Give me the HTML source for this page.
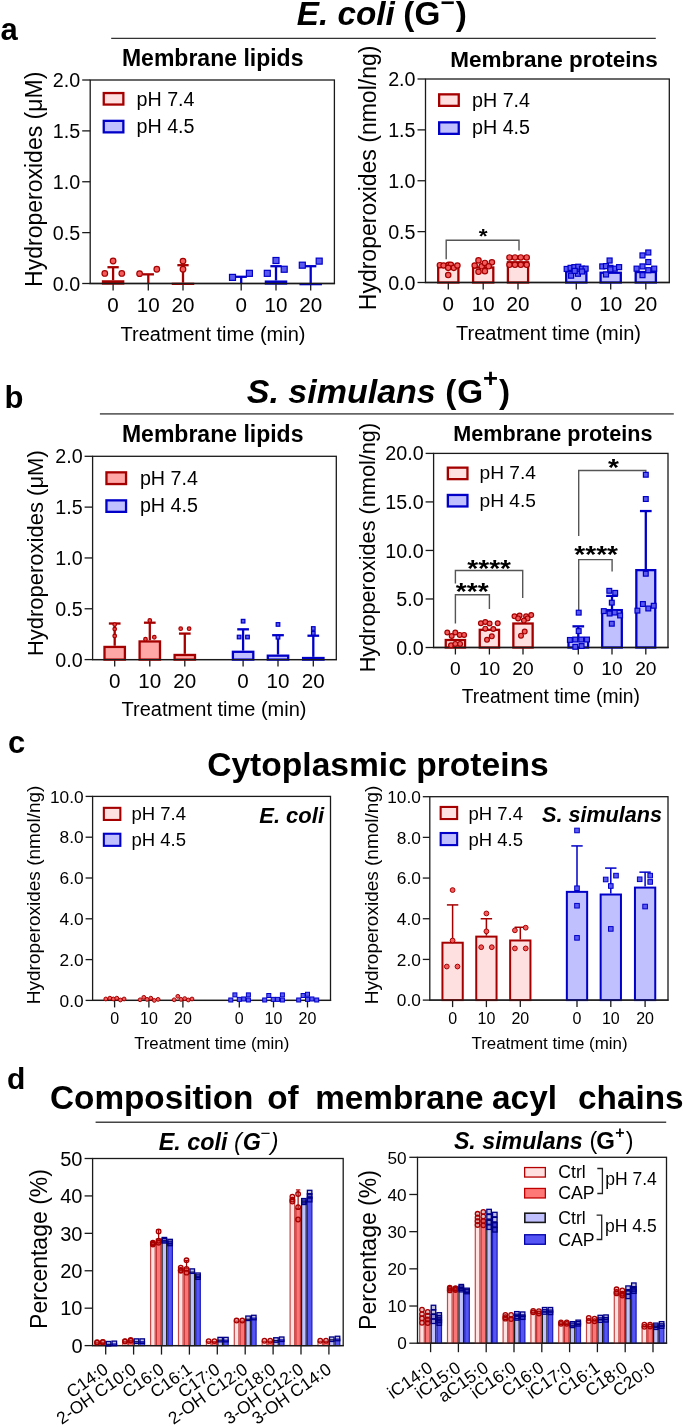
<!DOCTYPE html>
<html><head><meta charset="utf-8"><style>
html,body{margin:0;padding:0;background:#fff;}
svg{display:block;will-change:transform;font-family:"Liberation Sans", sans-serif;}
</style></head><body>
<svg width="685" height="1426" viewBox="0 0 685 1426">
<rect width="685" height="1426" fill="#fff"/>
<text x="0.5" y="39.9" font-size="31" text-anchor="start" font-weight="bold" font-style="normal" fill="#000">a</text>
<text x="296.7" y="24.8" font-size="33.3" text-anchor="start" font-weight="bold" font-style="italic" fill="#000">E. coli</text>
<text x="403.2" y="24.8" font-size="33.3" text-anchor="start" font-weight="bold" font-style="normal" fill="#000">(</text>
<text x="414.6" y="24.8" font-size="33.3" text-anchor="start" font-weight="bold" font-style="normal" fill="#000">G</text>
<text x="440.4" y="10.5" font-size="24.5" text-anchor="start" font-weight="bold" font-style="normal" fill="#000">−</text>
<text x="455.7" y="24.8" font-size="33.3" text-anchor="start" font-weight="bold" font-style="normal" fill="#000">)</text>
<line x1="111.2" y1="38.4" x2="655.8" y2="38.4" stroke="#333" stroke-width="1.3"/>
<rect x="90.2" y="80" width="244.2" height="203.5" fill="none" stroke="#1a1a1a" stroke-width="1.3"/>
<line x1="82.2" y1="283.5" x2="90.2" y2="283.5" stroke="#1a1a1a" stroke-width="1.3"/>
<text x="80.2" y="290.55" font-size="19.7" text-anchor="end" font-weight="normal" font-style="normal" fill="#000">0.0</text>
<line x1="82.2" y1="232.62" x2="90.2" y2="232.62" stroke="#1a1a1a" stroke-width="1.3"/>
<text x="80.2" y="239.68" font-size="19.7" text-anchor="end" font-weight="normal" font-style="normal" fill="#000">0.5</text>
<line x1="82.2" y1="181.75" x2="90.2" y2="181.75" stroke="#1a1a1a" stroke-width="1.3"/>
<text x="80.2" y="188.8" font-size="19.7" text-anchor="end" font-weight="normal" font-style="normal" fill="#000">1.0</text>
<line x1="82.2" y1="130.88" x2="90.2" y2="130.88" stroke="#1a1a1a" stroke-width="1.3"/>
<text x="80.2" y="137.93" font-size="19.7" text-anchor="end" font-weight="normal" font-style="normal" fill="#000">1.5</text>
<line x1="82.2" y1="80" x2="90.2" y2="80" stroke="#1a1a1a" stroke-width="1.3"/>
<text x="80.2" y="87.05" font-size="19.7" text-anchor="end" font-weight="normal" font-style="normal" fill="#000">2.0</text>
<text x="212.7" y="66.1" font-size="23" text-anchor="middle" font-weight="bold" font-style="normal" fill="#000">Membrane lipids</text>
<text x="41.9" y="179.3" font-size="23" text-anchor="middle" font-weight="normal" font-style="normal" fill="#000" transform="rotate(-90 41.9 179.3)">Hydroperoxides (μM)</text>
<rect x="103.75" y="93.05" width="19.6" height="11.5" fill="#ffe0e0" stroke="#a50000" stroke-width="2.3"/>
<rect x="103.75" y="120.85" width="19.6" height="11.5" fill="#c0c0ff" stroke="#0000c8" stroke-width="2.3"/>
<text x="136.5" y="105.8" font-size="19.7" text-anchor="start" font-weight="normal" font-style="normal" fill="#000">pH 7.4</text>
<text x="136.5" y="133" font-size="19.7" text-anchor="start" font-weight="normal" font-style="normal" fill="#000">pH 4.5</text>
<line x1="113.1" y1="283.5" x2="113.1" y2="290.5" stroke="#1a1a1a" stroke-width="1.3"/>
<text x="113.1" y="312" font-size="20.6" text-anchor="middle" font-weight="normal" font-style="normal" fill="#000">0</text>
<line x1="148.3" y1="283.5" x2="148.3" y2="290.5" stroke="#1a1a1a" stroke-width="1.3"/>
<text x="148.3" y="312" font-size="20.6" text-anchor="middle" font-weight="normal" font-style="normal" fill="#000">10</text>
<line x1="183" y1="283.5" x2="183" y2="290.5" stroke="#1a1a1a" stroke-width="1.3"/>
<text x="183" y="312" font-size="20.6" text-anchor="middle" font-weight="normal" font-style="normal" fill="#000">20</text>
<line x1="241.2" y1="283.5" x2="241.2" y2="290.5" stroke="#1a1a1a" stroke-width="1.3"/>
<text x="241.2" y="312" font-size="20.6" text-anchor="middle" font-weight="normal" font-style="normal" fill="#000">0</text>
<line x1="276" y1="283.5" x2="276" y2="290.5" stroke="#1a1a1a" stroke-width="1.3"/>
<text x="276" y="312" font-size="20.6" text-anchor="middle" font-weight="normal" font-style="normal" fill="#000">10</text>
<line x1="310.7" y1="283.5" x2="310.7" y2="290.5" stroke="#1a1a1a" stroke-width="1.3"/>
<text x="310.7" y="312" font-size="20.6" text-anchor="middle" font-weight="normal" font-style="normal" fill="#000">20</text>
<text x="213" y="341.1" font-size="20" text-anchor="middle" font-weight="normal" font-style="normal" fill="#000">Treatment time (min)</text>
<line x1="113.1" y1="280.24" x2="113.1" y2="267.22" stroke="#a50000" stroke-width="2.3"/>
<line x1="107.45" y1="267.22" x2="118.75" y2="267.22" stroke="#a50000" stroke-width="2.3"/>
<rect x="103" y="281.39" width="20.2" height="2.11" fill="#ffe0e0" stroke="#a50000" stroke-width="2.3"/>
<line x1="148.3" y1="283.5" x2="148.3" y2="274.34" stroke="#a50000" stroke-width="2.3"/>
<line x1="142.65" y1="274.34" x2="153.95" y2="274.34" stroke="#a50000" stroke-width="2.3"/>
<line x1="183" y1="282.69" x2="183" y2="265.19" stroke="#a50000" stroke-width="2.3"/>
<line x1="177.35" y1="265.19" x2="188.65" y2="265.19" stroke="#a50000" stroke-width="2.3"/>
<rect x="172.9" y="283.84" width="20.2" height="0.01" fill="#ffe0e0" stroke="#a50000" stroke-width="2.3"/>
<line x1="241.2" y1="283.5" x2="241.2" y2="276.78" stroke="#0000c8" stroke-width="2.3"/>
<line x1="235.55" y1="276.78" x2="246.85" y2="276.78" stroke="#0000c8" stroke-width="2.3"/>
<line x1="276" y1="280.45" x2="276" y2="266.2" stroke="#0000c8" stroke-width="2.3"/>
<line x1="270.35" y1="266.2" x2="281.65" y2="266.2" stroke="#0000c8" stroke-width="2.3"/>
<rect x="265.9" y="281.6" width="20.2" height="1.9" fill="#c0c0ff" stroke="#0000c8" stroke-width="2.3"/>
<line x1="310.7" y1="282.99" x2="310.7" y2="266.2" stroke="#0000c8" stroke-width="2.3"/>
<line x1="305.05" y1="266.2" x2="316.35" y2="266.2" stroke="#0000c8" stroke-width="2.3"/>
<rect x="300.6" y="284.14" width="20.2" height="0.01" fill="#c0c0ff" stroke="#0000c8" stroke-width="2.3"/>
<rect x="425.5" y="79" width="243.8" height="203.5" fill="none" stroke="#1a1a1a" stroke-width="1.3"/>
<line x1="417.5" y1="282.5" x2="425.5" y2="282.5" stroke="#1a1a1a" stroke-width="1.3"/>
<text x="415.5" y="289.55" font-size="19.7" text-anchor="end" font-weight="normal" font-style="normal" fill="#000">0.0</text>
<line x1="417.5" y1="231.62" x2="425.5" y2="231.62" stroke="#1a1a1a" stroke-width="1.3"/>
<text x="415.5" y="238.68" font-size="19.7" text-anchor="end" font-weight="normal" font-style="normal" fill="#000">0.5</text>
<line x1="417.5" y1="180.75" x2="425.5" y2="180.75" stroke="#1a1a1a" stroke-width="1.3"/>
<text x="415.5" y="187.8" font-size="19.7" text-anchor="end" font-weight="normal" font-style="normal" fill="#000">1.0</text>
<line x1="417.5" y1="129.88" x2="425.5" y2="129.88" stroke="#1a1a1a" stroke-width="1.3"/>
<text x="415.5" y="136.93" font-size="19.7" text-anchor="end" font-weight="normal" font-style="normal" fill="#000">1.5</text>
<line x1="417.5" y1="79" x2="425.5" y2="79" stroke="#1a1a1a" stroke-width="1.3"/>
<text x="415.5" y="86.05" font-size="19.7" text-anchor="end" font-weight="normal" font-style="normal" fill="#000">2.0</text>
<text x="554" y="66.6" font-size="22.5" text-anchor="middle" font-weight="bold" font-style="normal" fill="#000">Membrane proteins</text>
<text x="376" y="177.9" font-size="23" text-anchor="middle" font-weight="normal" font-style="normal" fill="#000" transform="rotate(-90 376 177.9)">Hydroperoxides (nmol/ng)</text>
<rect x="439.15" y="94.35" width="19.6" height="11.5" fill="#ffe0e0" stroke="#a50000" stroke-width="2.3"/>
<rect x="439.15" y="122.35" width="19.6" height="11.5" fill="#c0c0ff" stroke="#0000c8" stroke-width="2.3"/>
<text x="472" y="107" font-size="19.7" text-anchor="start" font-weight="normal" font-style="normal" fill="#000">pH 7.4</text>
<text x="472" y="134.3" font-size="19.7" text-anchor="start" font-weight="normal" font-style="normal" fill="#000">pH 4.5</text>
<line x1="448.3" y1="282.5" x2="448.3" y2="289.5" stroke="#1a1a1a" stroke-width="1.3"/>
<text x="448.3" y="311" font-size="20.6" text-anchor="middle" font-weight="normal" font-style="normal" fill="#000">0</text>
<line x1="483.2" y1="282.5" x2="483.2" y2="289.5" stroke="#1a1a1a" stroke-width="1.3"/>
<text x="483.2" y="311" font-size="20.6" text-anchor="middle" font-weight="normal" font-style="normal" fill="#000">10</text>
<line x1="518" y1="282.5" x2="518" y2="289.5" stroke="#1a1a1a" stroke-width="1.3"/>
<text x="518" y="311" font-size="20.6" text-anchor="middle" font-weight="normal" font-style="normal" fill="#000">20</text>
<line x1="576.3" y1="282.5" x2="576.3" y2="289.5" stroke="#1a1a1a" stroke-width="1.3"/>
<text x="576.3" y="311" font-size="20.6" text-anchor="middle" font-weight="normal" font-style="normal" fill="#000">0</text>
<line x1="610.7" y1="282.5" x2="610.7" y2="289.5" stroke="#1a1a1a" stroke-width="1.3"/>
<text x="610.7" y="311" font-size="20.6" text-anchor="middle" font-weight="normal" font-style="normal" fill="#000">10</text>
<line x1="645.8" y1="282.5" x2="645.8" y2="289.5" stroke="#1a1a1a" stroke-width="1.3"/>
<text x="645.8" y="311" font-size="20.6" text-anchor="middle" font-weight="normal" font-style="normal" fill="#000">20</text>
<text x="548.5" y="340" font-size="20" text-anchor="middle" font-weight="normal" font-style="normal" fill="#000">Treatment time (min)</text>
<path d="M446.2 259.3 V240.2 H519 V250.5" stroke="#555" stroke-width="1.4" fill="none"/>
<text transform="translate(483.2 242.7) scale(1.08 0.95)" x="0" y="0" font-size="21" font-weight="bold" text-anchor="middle">*</text>
<rect x="438.2" y="266.86" width="20.2" height="15.64" fill="#ffe0e0" stroke="#a50000" stroke-width="2.3"/>
<rect x="473.1" y="267.47" width="20.2" height="15.03" fill="#ffe0e0" stroke="#a50000" stroke-width="2.3"/>
<rect x="507.9" y="262.28" width="20.2" height="20.22" fill="#ffe0e0" stroke="#a50000" stroke-width="2.3"/>
<rect x="566.2" y="271.44" width="20.2" height="11.06" fill="#c0c0ff" stroke="#0000c8" stroke-width="2.3"/>
<rect x="600.6" y="272.76" width="20.2" height="9.74" fill="#c0c0ff" stroke="#0000c8" stroke-width="2.3"/>
<rect x="635.7" y="272.05" width="20.2" height="10.45" fill="#c0c0ff" stroke="#0000c8" stroke-width="2.3"/>
<text x="4.5" y="408" font-size="31" text-anchor="start" font-weight="bold" font-style="normal" fill="#000">b</text>
<text x="246.8" y="402.7" font-size="34" text-anchor="start" font-weight="bold" font-style="italic" fill="#000">S. simulans</text>
<text x="445.3" y="402.7" font-size="33.3" text-anchor="start" font-weight="bold" font-style="normal" fill="#000">(</text>
<text x="457.3" y="402.7" font-size="33.3" text-anchor="start" font-weight="bold" font-style="normal" fill="#000">G</text>
<text x="483" y="386.8" font-size="25.7" text-anchor="start" font-weight="bold" font-style="normal" fill="#000">+</text>
<text x="499" y="402.7" font-size="33.3" text-anchor="start" font-weight="bold" font-style="normal" fill="#000">)</text>
<line x1="99.9" y1="413.9" x2="673.8" y2="413.9" stroke="#666" stroke-width="1.6"/>
<rect x="92.6" y="456.3" width="243.7" height="203.3" fill="none" stroke="#1a1a1a" stroke-width="1.3"/>
<line x1="84.6" y1="659.6" x2="92.6" y2="659.6" stroke="#1a1a1a" stroke-width="1.3"/>
<text x="82.6" y="666.65" font-size="19.7" text-anchor="end" font-weight="normal" font-style="normal" fill="#000">0.0</text>
<line x1="84.6" y1="608.77" x2="92.6" y2="608.77" stroke="#1a1a1a" stroke-width="1.3"/>
<text x="82.6" y="615.82" font-size="19.7" text-anchor="end" font-weight="normal" font-style="normal" fill="#000">0.5</text>
<line x1="84.6" y1="557.95" x2="92.6" y2="557.95" stroke="#1a1a1a" stroke-width="1.3"/>
<text x="82.6" y="565" font-size="19.7" text-anchor="end" font-weight="normal" font-style="normal" fill="#000">1.0</text>
<line x1="84.6" y1="507.12" x2="92.6" y2="507.12" stroke="#1a1a1a" stroke-width="1.3"/>
<text x="82.6" y="514.17" font-size="19.7" text-anchor="end" font-weight="normal" font-style="normal" fill="#000">1.5</text>
<line x1="84.6" y1="456.3" x2="92.6" y2="456.3" stroke="#1a1a1a" stroke-width="1.3"/>
<text x="82.6" y="463.35" font-size="19.7" text-anchor="end" font-weight="normal" font-style="normal" fill="#000">2.0</text>
<text x="212.7" y="442" font-size="23" text-anchor="middle" font-weight="bold" font-style="normal" fill="#000">Membrane lipids</text>
<text x="43.3" y="553.2" font-size="22" text-anchor="middle" font-weight="normal" font-style="normal" fill="#000" transform="rotate(-90 43.3 553.2)">Hydroperoxides (μM)</text>
<rect x="106.45" y="472.35" width="19.6" height="11.7" fill="#ffa6a6" stroke="#a50000" stroke-width="2.3"/>
<rect x="106.45" y="500.35" width="19.6" height="11.5" fill="#c0c0ff" stroke="#0000c8" stroke-width="2.3"/>
<text x="139.9" y="485" font-size="19.7" text-anchor="start" font-weight="normal" font-style="normal" fill="#000">pH 7.4</text>
<text x="139.9" y="511.7" font-size="19.7" text-anchor="start" font-weight="normal" font-style="normal" fill="#000">pH 4.5</text>
<line x1="114.7" y1="659.6" x2="114.7" y2="666.6" stroke="#1a1a1a" stroke-width="1.3"/>
<text x="114.7" y="688" font-size="20.6" text-anchor="middle" font-weight="normal" font-style="normal" fill="#000">0</text>
<line x1="149.8" y1="659.6" x2="149.8" y2="666.6" stroke="#1a1a1a" stroke-width="1.3"/>
<text x="149.8" y="688" font-size="20.6" text-anchor="middle" font-weight="normal" font-style="normal" fill="#000">10</text>
<line x1="184.8" y1="659.6" x2="184.8" y2="666.6" stroke="#1a1a1a" stroke-width="1.3"/>
<text x="184.8" y="688" font-size="20.6" text-anchor="middle" font-weight="normal" font-style="normal" fill="#000">20</text>
<line x1="243.1" y1="659.6" x2="243.1" y2="666.6" stroke="#1a1a1a" stroke-width="1.3"/>
<text x="243.1" y="688" font-size="20.6" text-anchor="middle" font-weight="normal" font-style="normal" fill="#000">0</text>
<line x1="278" y1="659.6" x2="278" y2="666.6" stroke="#1a1a1a" stroke-width="1.3"/>
<text x="278" y="688" font-size="20.6" text-anchor="middle" font-weight="normal" font-style="normal" fill="#000">10</text>
<line x1="313.3" y1="659.6" x2="313.3" y2="666.6" stroke="#1a1a1a" stroke-width="1.3"/>
<text x="313.3" y="688" font-size="20.6" text-anchor="middle" font-weight="normal" font-style="normal" fill="#000">20</text>
<text x="214" y="715.5" font-size="20" text-anchor="middle" font-weight="normal" font-style="normal" fill="#000">Treatment time (min)</text>
<line x1="114.7" y1="645.78" x2="114.7" y2="623.51" stroke="#a50000" stroke-width="2.3"/>
<line x1="108.85" y1="623.51" x2="120.55" y2="623.51" stroke="#a50000" stroke-width="2.3"/>
<rect x="104.5" y="646.93" width="20.4" height="12.67" fill="#ffa6a6" stroke="#a50000" stroke-width="2.3"/>
<line x1="149.8" y1="640.29" x2="149.8" y2="622.7" stroke="#a50000" stroke-width="2.3"/>
<line x1="143.95" y1="622.7" x2="155.65" y2="622.7" stroke="#a50000" stroke-width="2.3"/>
<rect x="139.6" y="641.44" width="20.4" height="18.16" fill="#ffa6a6" stroke="#a50000" stroke-width="2.3"/>
<line x1="184.8" y1="653.81" x2="184.8" y2="633.58" stroke="#a50000" stroke-width="2.3"/>
<line x1="178.95" y1="633.58" x2="190.65" y2="633.58" stroke="#a50000" stroke-width="2.3"/>
<rect x="174.6" y="654.96" width="20.4" height="4.64" fill="#ffa6a6" stroke="#a50000" stroke-width="2.3"/>
<line x1="243.1" y1="650.65" x2="243.1" y2="629.31" stroke="#0000c8" stroke-width="2.3"/>
<line x1="237.25" y1="629.31" x2="248.95" y2="629.31" stroke="#0000c8" stroke-width="2.3"/>
<rect x="232.9" y="651.8" width="20.4" height="7.8" fill="#c0c0ff" stroke="#0000c8" stroke-width="2.3"/>
<line x1="278" y1="654.52" x2="278" y2="635.2" stroke="#0000c8" stroke-width="2.3"/>
<line x1="272.15" y1="635.2" x2="283.85" y2="635.2" stroke="#0000c8" stroke-width="2.3"/>
<rect x="267.8" y="655.67" width="20.4" height="3.93" fill="#c0c0ff" stroke="#0000c8" stroke-width="2.3"/>
<line x1="313.3" y1="656.86" x2="313.3" y2="635.71" stroke="#0000c8" stroke-width="2.3"/>
<line x1="307.45" y1="635.71" x2="319.15" y2="635.71" stroke="#0000c8" stroke-width="2.3"/>
<rect x="303.1" y="658.01" width="20.4" height="1.59" fill="#c0c0ff" stroke="#0000c8" stroke-width="2.3"/>
<rect x="433.6" y="453.4" width="234.4" height="194.1" fill="none" stroke="#1a1a1a" stroke-width="1.3"/>
<line x1="425.6" y1="647.5" x2="433.6" y2="647.5" stroke="#1a1a1a" stroke-width="1.3"/>
<text x="423.6" y="654.55" font-size="19.7" text-anchor="end" font-weight="normal" font-style="normal" fill="#000">0.0</text>
<line x1="425.6" y1="598.98" x2="433.6" y2="598.98" stroke="#1a1a1a" stroke-width="1.3"/>
<text x="423.6" y="606.02" font-size="19.7" text-anchor="end" font-weight="normal" font-style="normal" fill="#000">5.0</text>
<line x1="425.6" y1="550.45" x2="433.6" y2="550.45" stroke="#1a1a1a" stroke-width="1.3"/>
<text x="423.6" y="557.5" font-size="19.7" text-anchor="end" font-weight="normal" font-style="normal" fill="#000">10.0</text>
<line x1="425.6" y1="501.92" x2="433.6" y2="501.92" stroke="#1a1a1a" stroke-width="1.3"/>
<text x="423.6" y="508.97" font-size="19.7" text-anchor="end" font-weight="normal" font-style="normal" fill="#000">15.0</text>
<line x1="425.6" y1="453.4" x2="433.6" y2="453.4" stroke="#1a1a1a" stroke-width="1.3"/>
<text x="423.6" y="460.45" font-size="19.7" text-anchor="end" font-weight="normal" font-style="normal" fill="#000">20.0</text>
<text x="552.9" y="441" font-size="21.6" text-anchor="middle" font-weight="bold" font-style="normal" fill="#000">Membrane proteins</text>
<text x="375.5" y="547.6" font-size="21.7" text-anchor="middle" font-weight="normal" font-style="normal" fill="#000" transform="rotate(-90 375.5 547.6)">Hydroperoxides (nmol/ng)</text>
<rect x="447.85" y="467.65" width="19.6" height="11.5" fill="#ffe0e0" stroke="#a50000" stroke-width="2.3"/>
<rect x="447.85" y="494.95" width="19.6" height="11.5" fill="#c0c0ff" stroke="#0000c8" stroke-width="2.3"/>
<text x="479.5" y="479.3" font-size="19.2" text-anchor="start" font-weight="normal" font-style="normal" fill="#000">pH 7.4</text>
<text x="479.5" y="506.7" font-size="19.2" text-anchor="start" font-weight="normal" font-style="normal" fill="#000">pH 4.5</text>
<line x1="455.4" y1="647.5" x2="455.4" y2="654.5" stroke="#1a1a1a" stroke-width="1.3"/>
<text x="455.4" y="674.5" font-size="19.2" text-anchor="middle" font-weight="normal" font-style="normal" fill="#000">0</text>
<line x1="489.4" y1="647.5" x2="489.4" y2="654.5" stroke="#1a1a1a" stroke-width="1.3"/>
<text x="489.4" y="674.5" font-size="19.2" text-anchor="middle" font-weight="normal" font-style="normal" fill="#000">10</text>
<line x1="523" y1="647.5" x2="523" y2="654.5" stroke="#1a1a1a" stroke-width="1.3"/>
<text x="523" y="674.5" font-size="19.2" text-anchor="middle" font-weight="normal" font-style="normal" fill="#000">20</text>
<line x1="578.3" y1="647.5" x2="578.3" y2="654.5" stroke="#1a1a1a" stroke-width="1.3"/>
<text x="578.3" y="674.5" font-size="19.2" text-anchor="middle" font-weight="normal" font-style="normal" fill="#000">0</text>
<line x1="612" y1="647.5" x2="612" y2="654.5" stroke="#1a1a1a" stroke-width="1.3"/>
<text x="612" y="674.5" font-size="19.2" text-anchor="middle" font-weight="normal" font-style="normal" fill="#000">10</text>
<line x1="645.8" y1="647.5" x2="645.8" y2="654.5" stroke="#1a1a1a" stroke-width="1.3"/>
<text x="645.8" y="674.5" font-size="19.2" text-anchor="middle" font-weight="normal" font-style="normal" fill="#000">20</text>
<text x="550.8" y="703" font-size="19.3" text-anchor="middle" font-weight="normal" font-style="normal" fill="#000">Treatment time (min)</text>
<path d="M455.4 623.4 V594.8 H489.4 V608.9" stroke="#555" stroke-width="1.4" fill="none"/>
<text transform="translate(472.2 600) scale(1.08 0.95)" x="0" y="0" font-size="26" font-weight="bold" text-anchor="middle">***</text>
<path d="M455.4 583.6 V570.5 H522.7 V598.1" stroke="#555" stroke-width="1.4" fill="none"/>
<text transform="translate(489.2 576.5) scale(1.08 0.95)" x="0" y="0" font-size="26" font-weight="bold" text-anchor="middle">****</text>
<path d="M578.7 610.4 V559.6 H612.1 V571.4" stroke="#555" stroke-width="1.4" fill="none"/>
<text transform="translate(596.2 563.2) scale(1.08 0.95)" x="0" y="0" font-size="26" font-weight="bold" text-anchor="middle">****</text>
<path d="M578.7 536 V470.5 H645.8 V474" stroke="#555" stroke-width="1.4" fill="none"/>
<text transform="translate(613.4 476) scale(1.08 0.95)" x="0" y="0" font-size="26" font-weight="bold" text-anchor="middle">*</text>
<rect x="445.75" y="640.01" width="19.3" height="7.49" fill="#ffe0e0" stroke="#a50000" stroke-width="2.3"/>
<rect x="479.75" y="629.82" width="19.3" height="17.68" fill="#ffe0e0" stroke="#a50000" stroke-width="2.3"/>
<rect x="513.35" y="623.51" width="19.3" height="23.99" fill="#ffe0e0" stroke="#a50000" stroke-width="2.3"/>
<line x1="578.3" y1="637.31" x2="578.3" y2="626.34" stroke="#0000c8" stroke-width="2.3"/>
<line x1="572.45" y1="626.34" x2="584.15" y2="626.34" stroke="#0000c8" stroke-width="2.3"/>
<rect x="568.5" y="638.46" width="19.6" height="9.04" fill="#c0c0ff" stroke="#0000c8" stroke-width="2.3"/>
<line x1="612" y1="608.97" x2="612" y2="595.87" stroke="#0000c8" stroke-width="2.3"/>
<line x1="606.15" y1="595.87" x2="617.85" y2="595.87" stroke="#0000c8" stroke-width="2.3"/>
<rect x="602.2" y="610.12" width="19.6" height="37.38" fill="#c0c0ff" stroke="#0000c8" stroke-width="2.3"/>
<line x1="645.8" y1="568.99" x2="645.8" y2="511.05" stroke="#0000c8" stroke-width="2.3"/>
<line x1="639.95" y1="511.05" x2="651.65" y2="511.05" stroke="#0000c8" stroke-width="2.3"/>
<rect x="636.35" y="570.14" width="18.9" height="77.36" fill="#c0c0ff" stroke="#0000c8" stroke-width="2.3"/>
<text x="8" y="752.8" font-size="31" text-anchor="start" font-weight="bold" font-style="normal" fill="#000">c</text>
<text x="207.2" y="776.3" font-size="33.6" text-anchor="start" font-weight="bold" font-style="normal" fill="#000">Cytoplasmic proteins</text>
<rect x="92.6" y="796.4" width="237.9" height="204" fill="none" stroke="#1a1a1a" stroke-width="1.3"/>
<line x1="85.6" y1="1000.4" x2="92.6" y2="1000.4" stroke="#1a1a1a" stroke-width="1.3"/>
<text x="83.6" y="1006.6" font-size="17.3" text-anchor="end" font-weight="normal" font-style="normal" fill="#000">0.0</text>
<line x1="85.6" y1="959.6" x2="92.6" y2="959.6" stroke="#1a1a1a" stroke-width="1.3"/>
<text x="83.6" y="965.8" font-size="17.3" text-anchor="end" font-weight="normal" font-style="normal" fill="#000">2.0</text>
<line x1="85.6" y1="918.8" x2="92.6" y2="918.8" stroke="#1a1a1a" stroke-width="1.3"/>
<text x="83.6" y="925" font-size="17.3" text-anchor="end" font-weight="normal" font-style="normal" fill="#000">4.0</text>
<line x1="85.6" y1="878" x2="92.6" y2="878" stroke="#1a1a1a" stroke-width="1.3"/>
<text x="83.6" y="884.2" font-size="17.3" text-anchor="end" font-weight="normal" font-style="normal" fill="#000">6.0</text>
<line x1="85.6" y1="837.2" x2="92.6" y2="837.2" stroke="#1a1a1a" stroke-width="1.3"/>
<text x="83.6" y="843.4" font-size="17.3" text-anchor="end" font-weight="normal" font-style="normal" fill="#000">8.0</text>
<line x1="85.6" y1="796.4" x2="92.6" y2="796.4" stroke="#1a1a1a" stroke-width="1.3"/>
<text x="83.6" y="802.6" font-size="17.3" text-anchor="end" font-weight="normal" font-style="normal" fill="#000">10.0</text>
<text x="40.2" y="894.9" font-size="19" text-anchor="middle" font-weight="normal" font-style="normal" fill="#000" transform="rotate(-90 40.2 894.9)">Hydroperoxides (nmol/ng)</text>
<rect x="103.85" y="807.85" width="16.5" height="12.1" fill="#ffe0e0" stroke="#a50000" stroke-width="2.1"/>
<rect x="103.85" y="833.75" width="16.5" height="12.1" fill="#c0c0ff" stroke="#0000c8" stroke-width="2.1"/>
<text x="131.5" y="819.9" font-size="18.5" text-anchor="start" font-weight="normal" font-style="normal" fill="#000">pH 7.4</text>
<text x="131.5" y="845.7" font-size="18.5" text-anchor="start" font-weight="normal" font-style="normal" fill="#000">pH 4.5</text>
<text x="324" y="823.4" font-size="22" font-weight="bold" font-style="italic" text-anchor="end">E. coli</text>
<line x1="114.6" y1="1000.4" x2="114.6" y2="1007.4" stroke="#1a1a1a" stroke-width="1.3"/>
<text x="114.6" y="1023.5" font-size="16" text-anchor="middle" font-weight="normal" font-style="normal" fill="#000">0</text>
<line x1="148.9" y1="1000.4" x2="148.9" y2="1007.4" stroke="#1a1a1a" stroke-width="1.3"/>
<text x="148.9" y="1023.5" font-size="16" text-anchor="middle" font-weight="normal" font-style="normal" fill="#000">10</text>
<line x1="182.9" y1="1000.4" x2="182.9" y2="1007.4" stroke="#1a1a1a" stroke-width="1.3"/>
<text x="182.9" y="1023.5" font-size="16" text-anchor="middle" font-weight="normal" font-style="normal" fill="#000">20</text>
<line x1="239.3" y1="1000.4" x2="239.3" y2="1007.4" stroke="#1a1a1a" stroke-width="1.3"/>
<text x="239.3" y="1023.5" font-size="16" text-anchor="middle" font-weight="normal" font-style="normal" fill="#000">0</text>
<line x1="273.5" y1="1000.4" x2="273.5" y2="1007.4" stroke="#1a1a1a" stroke-width="1.3"/>
<text x="273.5" y="1023.5" font-size="16" text-anchor="middle" font-weight="normal" font-style="normal" fill="#000">10</text>
<line x1="307.5" y1="1000.4" x2="307.5" y2="1007.4" stroke="#1a1a1a" stroke-width="1.3"/>
<text x="307.5" y="1023.5" font-size="16" text-anchor="middle" font-weight="normal" font-style="normal" fill="#000">20</text>
<text x="211.7" y="1048.5" font-size="16.8" text-anchor="middle" font-weight="normal" font-style="normal" fill="#000">Treatment time (min)</text>
<rect x="429.8" y="796.7" width="238.2" height="203.4" fill="none" stroke="#1a1a1a" stroke-width="1.3"/>
<line x1="422.8" y1="1000.1" x2="429.8" y2="1000.1" stroke="#1a1a1a" stroke-width="1.3"/>
<text x="420.8" y="1006.3" font-size="17.3" text-anchor="end" font-weight="normal" font-style="normal" fill="#000">0.0</text>
<line x1="422.8" y1="959.42" x2="429.8" y2="959.42" stroke="#1a1a1a" stroke-width="1.3"/>
<text x="420.8" y="965.62" font-size="17.3" text-anchor="end" font-weight="normal" font-style="normal" fill="#000">2.0</text>
<line x1="422.8" y1="918.74" x2="429.8" y2="918.74" stroke="#1a1a1a" stroke-width="1.3"/>
<text x="420.8" y="924.94" font-size="17.3" text-anchor="end" font-weight="normal" font-style="normal" fill="#000">4.0</text>
<line x1="422.8" y1="878.06" x2="429.8" y2="878.06" stroke="#1a1a1a" stroke-width="1.3"/>
<text x="420.8" y="884.26" font-size="17.3" text-anchor="end" font-weight="normal" font-style="normal" fill="#000">6.0</text>
<line x1="422.8" y1="837.38" x2="429.8" y2="837.38" stroke="#1a1a1a" stroke-width="1.3"/>
<text x="420.8" y="843.58" font-size="17.3" text-anchor="end" font-weight="normal" font-style="normal" fill="#000">8.0</text>
<line x1="422.8" y1="796.7" x2="429.8" y2="796.7" stroke="#1a1a1a" stroke-width="1.3"/>
<text x="420.8" y="802.9" font-size="17.3" text-anchor="end" font-weight="normal" font-style="normal" fill="#000">10.0</text>
<text x="377.5" y="895" font-size="19" text-anchor="middle" font-weight="normal" font-style="normal" fill="#000" transform="rotate(-90 377.5 895)">Hydroperoxides (nmol/ng)</text>
<rect x="440.65" y="806.95" width="16.5" height="12.1" fill="#ffe0e0" stroke="#a50000" stroke-width="2.1"/>
<rect x="440.65" y="833" width="16.5" height="12.1" fill="#c0c0ff" stroke="#0000c8" stroke-width="2.1"/>
<text x="468.5" y="819.5" font-size="18.5" text-anchor="start" font-weight="normal" font-style="normal" fill="#000">pH 7.4</text>
<text x="468.5" y="845.5" font-size="18.5" text-anchor="start" font-weight="normal" font-style="normal" fill="#000">pH 4.5</text>
<text x="662" y="822" font-size="21.6" font-weight="bold" font-style="italic" text-anchor="end">S. simulans</text>
<line x1="452.6" y1="1000.1" x2="452.6" y2="1007.1" stroke="#1a1a1a" stroke-width="1.3"/>
<text x="452.6" y="1023.6" font-size="16" text-anchor="middle" font-weight="normal" font-style="normal" fill="#000">0</text>
<line x1="486.4" y1="1000.1" x2="486.4" y2="1007.1" stroke="#1a1a1a" stroke-width="1.3"/>
<text x="486.4" y="1023.6" font-size="16" text-anchor="middle" font-weight="normal" font-style="normal" fill="#000">10</text>
<line x1="520.3" y1="1000.1" x2="520.3" y2="1007.1" stroke="#1a1a1a" stroke-width="1.3"/>
<text x="520.3" y="1023.6" font-size="16" text-anchor="middle" font-weight="normal" font-style="normal" fill="#000">20</text>
<line x1="577" y1="1000.1" x2="577" y2="1007.1" stroke="#1a1a1a" stroke-width="1.3"/>
<text x="577" y="1023.6" font-size="16" text-anchor="middle" font-weight="normal" font-style="normal" fill="#000">0</text>
<line x1="610.8" y1="1000.1" x2="610.8" y2="1007.1" stroke="#1a1a1a" stroke-width="1.3"/>
<text x="610.8" y="1023.6" font-size="16" text-anchor="middle" font-weight="normal" font-style="normal" fill="#000">10</text>
<line x1="645.1" y1="1000.1" x2="645.1" y2="1007.1" stroke="#1a1a1a" stroke-width="1.3"/>
<text x="645.1" y="1023.6" font-size="16" text-anchor="middle" font-weight="normal" font-style="normal" fill="#000">20</text>
<text x="549.5" y="1048.7" font-size="16.9" text-anchor="middle" font-weight="normal" font-style="normal" fill="#000">Treatment time (min)</text>
<line x1="452.6" y1="941.72" x2="452.6" y2="904.91" stroke="#a50000" stroke-width="1.5"/>
<line x1="446.9" y1="904.91" x2="458.3" y2="904.91" stroke="#a50000" stroke-width="1.5"/>
<rect x="442.45" y="942.72" width="20.3" height="57.38" fill="#ffe0e0" stroke="#a50000" stroke-width="2"/>
<line x1="486.4" y1="935.62" x2="486.4" y2="918.74" stroke="#a50000" stroke-width="1.5"/>
<line x1="480.7" y1="918.74" x2="492.1" y2="918.74" stroke="#a50000" stroke-width="1.5"/>
<rect x="476.25" y="936.62" width="20.3" height="63.48" fill="#ffe0e0" stroke="#a50000" stroke-width="2"/>
<line x1="520.3" y1="939.49" x2="520.3" y2="927.28" stroke="#a50000" stroke-width="1.5"/>
<line x1="514.6" y1="927.28" x2="526" y2="927.28" stroke="#a50000" stroke-width="1.5"/>
<rect x="510.15" y="940.49" width="20.3" height="59.61" fill="#ffe0e0" stroke="#a50000" stroke-width="2"/>
<line x1="577" y1="890.87" x2="577" y2="845.92" stroke="#0000c8" stroke-width="1.5"/>
<line x1="571.3" y1="845.92" x2="582.7" y2="845.92" stroke="#0000c8" stroke-width="1.5"/>
<rect x="566.85" y="891.87" width="20.3" height="108.23" fill="#c0c0ff" stroke="#0000c8" stroke-width="2"/>
<line x1="610.8" y1="893.52" x2="610.8" y2="868.09" stroke="#0000c8" stroke-width="1.5"/>
<line x1="605.1" y1="868.09" x2="616.5" y2="868.09" stroke="#0000c8" stroke-width="1.5"/>
<rect x="600.65" y="894.52" width="20.3" height="105.58" fill="#c0c0ff" stroke="#0000c8" stroke-width="2"/>
<line x1="645.1" y1="886.6" x2="645.1" y2="872.16" stroke="#0000c8" stroke-width="1.5"/>
<line x1="639.4" y1="872.16" x2="650.8" y2="872.16" stroke="#0000c8" stroke-width="1.5"/>
<rect x="634.95" y="887.6" width="20.3" height="112.5" fill="#c0c0ff" stroke="#0000c8" stroke-width="2"/>
<text x="6.9" y="1088.8" font-size="30" text-anchor="start" font-weight="bold" font-style="normal" fill="#000">d</text>
<text x="50" y="1109" font-size="33.3" text-anchor="start" font-weight="bold" font-style="normal" fill="#000">Composition</text>
<text x="267.2" y="1109" font-size="33.3" text-anchor="start" font-weight="bold" font-style="normal" fill="#000">of</text>
<text x="315.2" y="1109" font-size="33.3" text-anchor="start" font-weight="bold" font-style="normal" fill="#000">membrane</text>
<text x="492.1" y="1109" font-size="33.3" text-anchor="start" font-weight="bold" font-style="normal" fill="#000">acyl</text>
<text x="578.1" y="1109" font-size="33.3" text-anchor="start" font-weight="bold" font-style="normal" fill="#000">chains</text>
<line x1="95.6" y1="1122.3" x2="666.2" y2="1122.3" stroke="#444" stroke-width="1.4"/>
<text x="158.8" y="1149.6" font-size="23.3" text-anchor="start" font-weight="bold" font-style="italic" fill="#000">E. coli</text>
<text x="234" y="1149.6" font-size="23.3" text-anchor="start" font-weight="normal" font-style="italic" fill="#000">(</text>
<text x="242.7" y="1149.6" font-size="23.3" text-anchor="start" font-weight="bold" font-style="italic" fill="#000">G</text>
<text x="260.5" y="1139.2" font-size="17" text-anchor="start" font-weight="normal" font-style="normal" fill="#000">−</text>
<text x="270.7" y="1149.6" font-size="23.3" text-anchor="start" font-weight="normal" font-style="italic" fill="#000">)</text>
<text x="453.9" y="1148.8" font-size="23.2" text-anchor="start" font-weight="bold" font-style="italic" fill="#000">S. simulans</text>
<text x="589.6" y="1148.8" font-size="23.3" text-anchor="start" font-weight="normal" font-style="normal" fill="#000">(</text>
<text x="596.2" y="1148.8" font-size="24" text-anchor="start" font-weight="bold" font-style="normal" fill="#000">G</text>
<text x="615.3" y="1137.5" font-size="16" text-anchor="start" font-weight="bold" font-style="normal" fill="#000">+</text>
<text x="625.8" y="1148.8" font-size="23.3" text-anchor="start" font-weight="normal" font-style="normal" fill="#000">)</text>
<rect x="92.6" y="1158.5" width="250.6" height="187.1" fill="none" stroke="#1a1a1a" stroke-width="1.3"/>
<line x1="84.6" y1="1345.6" x2="92.6" y2="1345.6" stroke="#1a1a1a" stroke-width="1.3"/>
<text x="82.5" y="1352.8" font-size="20" text-anchor="end" font-weight="normal" font-style="normal" fill="#000">0</text>
<line x1="84.6" y1="1308.18" x2="92.6" y2="1308.18" stroke="#1a1a1a" stroke-width="1.3"/>
<text x="82.5" y="1315.38" font-size="20" text-anchor="end" font-weight="normal" font-style="normal" fill="#000">10</text>
<line x1="84.6" y1="1270.76" x2="92.6" y2="1270.76" stroke="#1a1a1a" stroke-width="1.3"/>
<text x="82.5" y="1277.96" font-size="20" text-anchor="end" font-weight="normal" font-style="normal" fill="#000">20</text>
<line x1="84.6" y1="1233.34" x2="92.6" y2="1233.34" stroke="#1a1a1a" stroke-width="1.3"/>
<text x="82.5" y="1240.54" font-size="20" text-anchor="end" font-weight="normal" font-style="normal" fill="#000">30</text>
<line x1="84.6" y1="1195.92" x2="92.6" y2="1195.92" stroke="#1a1a1a" stroke-width="1.3"/>
<text x="82.5" y="1203.12" font-size="20" text-anchor="end" font-weight="normal" font-style="normal" fill="#000">40</text>
<line x1="84.6" y1="1158.5" x2="92.6" y2="1158.5" stroke="#1a1a1a" stroke-width="1.3"/>
<text x="82.5" y="1165.7" font-size="20" text-anchor="end" font-weight="normal" font-style="normal" fill="#000">50</text>
<text x="47.2" y="1249" font-size="23" text-anchor="middle" font-weight="normal" font-style="normal" fill="#000" transform="rotate(-90 47.2 1249)">Percentage (%)</text>
<line x1="105.7" y1="1345.6" x2="105.7" y2="1354.6" stroke="#1a1a1a" stroke-width="1.3"/>
<line x1="133.6" y1="1345.6" x2="133.6" y2="1354.6" stroke="#1a1a1a" stroke-width="1.3"/>
<line x1="161.5" y1="1345.6" x2="161.5" y2="1354.6" stroke="#1a1a1a" stroke-width="1.3"/>
<line x1="189.4" y1="1345.6" x2="189.4" y2="1354.6" stroke="#1a1a1a" stroke-width="1.3"/>
<line x1="217.3" y1="1345.6" x2="217.3" y2="1354.6" stroke="#1a1a1a" stroke-width="1.3"/>
<line x1="245.2" y1="1345.6" x2="245.2" y2="1354.6" stroke="#1a1a1a" stroke-width="1.3"/>
<line x1="273.1" y1="1345.6" x2="273.1" y2="1354.6" stroke="#1a1a1a" stroke-width="1.3"/>
<line x1="301" y1="1345.6" x2="301" y2="1354.6" stroke="#1a1a1a" stroke-width="1.3"/>
<line x1="328.9" y1="1345.6" x2="328.9" y2="1354.6" stroke="#1a1a1a" stroke-width="1.3"/>
<text x="109.5" y="1372" font-size="17.3" text-anchor="end" font-weight="normal" font-style="normal" fill="#000" transform="rotate(-35 109.5 1372)">C14:0</text>
<text x="137.4" y="1372" font-size="17.3" text-anchor="end" font-weight="normal" font-style="normal" fill="#000" transform="rotate(-35 137.4 1372)">2-OH C10:0</text>
<text x="165.3" y="1372" font-size="17.3" text-anchor="end" font-weight="normal" font-style="normal" fill="#000" transform="rotate(-35 165.3 1372)">C16:0</text>
<text x="193.2" y="1372" font-size="17.3" text-anchor="end" font-weight="normal" font-style="normal" fill="#000" transform="rotate(-35 193.2 1372)">C16:1</text>
<text x="221.1" y="1372" font-size="17.3" text-anchor="end" font-weight="normal" font-style="normal" fill="#000" transform="rotate(-35 221.1 1372)">C17:0</text>
<text x="249" y="1372" font-size="17.3" text-anchor="end" font-weight="normal" font-style="normal" fill="#000" transform="rotate(-35 249 1372)">2-OH C12:0</text>
<text x="276.9" y="1372" font-size="17.3" text-anchor="end" font-weight="normal" font-style="normal" fill="#000" transform="rotate(-35 276.9 1372)">C18:0</text>
<text x="304.8" y="1372" font-size="17.3" text-anchor="end" font-weight="normal" font-style="normal" fill="#000" transform="rotate(-35 304.8 1372)">3-OH C12:0</text>
<text x="332.7" y="1372" font-size="17.3" text-anchor="end" font-weight="normal" font-style="normal" fill="#000" transform="rotate(-35 332.7 1372)">3-OH C14:0</text>
<rect x="94.8" y="1342.83" width="4.55" height="2.77" fill="#ffe2e2" stroke="#c84848" stroke-width="1.2"/>
<rect x="100.55" y="1342.83" width="4.55" height="2.77" fill="#fa7676" stroke="#c03030" stroke-width="1.2"/>
<rect x="106.3" y="1344.33" width="4.55" height="1.27" fill="#c0c0fc" stroke="#1a1a1a" stroke-width="1.2"/>
<rect x="112.05" y="1343.95" width="4.55" height="1.65" fill="#5555f2" stroke="#1c1cc0" stroke-width="1.2"/>
<rect x="122.7" y="1341.71" width="4.55" height="3.89" fill="#ffe2e2" stroke="#c84848" stroke-width="1.2"/>
<rect x="128.45" y="1340.59" width="4.55" height="5.01" fill="#fa7676" stroke="#c03030" stroke-width="1.2"/>
<rect x="134.2" y="1341.71" width="4.55" height="3.89" fill="#c0c0fc" stroke="#1a1a1a" stroke-width="1.2"/>
<rect x="139.95" y="1341.71" width="4.55" height="3.89" fill="#5555f2" stroke="#1c1cc0" stroke-width="1.2"/>
<rect x="150.6" y="1244.04" width="4.55" height="101.56" fill="#ffe2e2" stroke="#c84848" stroke-width="1.2"/>
<rect x="156.35" y="1239.18" width="4.55" height="106.42" fill="#fa7676" stroke="#c03030" stroke-width="1.2"/>
<rect x="162.1" y="1240.68" width="4.55" height="104.92" fill="#c0c0fc" stroke="#1a1a1a" stroke-width="1.2"/>
<rect x="167.85" y="1242.92" width="4.55" height="102.68" fill="#5555f2" stroke="#1c1cc0" stroke-width="1.2"/>
<line x1="158.62" y1="1238.58" x2="158.62" y2="1229.6" stroke="#a80000" stroke-width="1.2"/>
<line x1="156.43" y1="1229.6" x2="160.82" y2="1229.6" stroke="#a80000" stroke-width="1.2"/>
<rect x="178.5" y="1270.24" width="4.55" height="75.36" fill="#ffe2e2" stroke="#c84848" stroke-width="1.2"/>
<rect x="184.25" y="1268.37" width="4.55" height="77.23" fill="#fa7676" stroke="#c03030" stroke-width="1.2"/>
<rect x="190" y="1272.11" width="4.55" height="73.49" fill="#c0c0fc" stroke="#1a1a1a" stroke-width="1.2"/>
<rect x="195.75" y="1276.6" width="4.55" height="69" fill="#5555f2" stroke="#1c1cc0" stroke-width="1.2"/>
<line x1="186.52" y1="1267.77" x2="186.52" y2="1260.66" stroke="#a80000" stroke-width="1.2"/>
<line x1="184.32" y1="1260.66" x2="188.72" y2="1260.66" stroke="#a80000" stroke-width="1.2"/>
<rect x="206.4" y="1341.71" width="4.55" height="3.89" fill="#ffe2e2" stroke="#c84848" stroke-width="1.2"/>
<rect x="212.15" y="1341.71" width="4.55" height="3.89" fill="#fa7676" stroke="#c03030" stroke-width="1.2"/>
<rect x="217.9" y="1340.21" width="4.55" height="5.39" fill="#c0c0fc" stroke="#1a1a1a" stroke-width="1.2"/>
<rect x="223.65" y="1340.21" width="4.55" height="5.39" fill="#5555f2" stroke="#1c1cc0" stroke-width="1.2"/>
<rect x="234.3" y="1321.13" width="4.55" height="24.47" fill="#ffe2e2" stroke="#c84848" stroke-width="1.2"/>
<rect x="240.05" y="1321.13" width="4.55" height="24.47" fill="#fa7676" stroke="#c03030" stroke-width="1.2"/>
<rect x="245.8" y="1319.26" width="4.55" height="26.34" fill="#c0c0fc" stroke="#1a1a1a" stroke-width="1.2"/>
<rect x="251.55" y="1318.13" width="4.55" height="27.47" fill="#5555f2" stroke="#1c1cc0" stroke-width="1.2"/>
<rect x="262.2" y="1341.34" width="4.55" height="4.26" fill="#ffe2e2" stroke="#c84848" stroke-width="1.2"/>
<rect x="267.95" y="1341.34" width="4.55" height="4.26" fill="#fa7676" stroke="#c03030" stroke-width="1.2"/>
<rect x="273.7" y="1340.59" width="4.55" height="5.01" fill="#c0c0fc" stroke="#1a1a1a" stroke-width="1.2"/>
<rect x="279.45" y="1339.84" width="4.55" height="5.76" fill="#5555f2" stroke="#1c1cc0" stroke-width="1.2"/>
<rect x="290.1" y="1199.14" width="4.55" height="146.46" fill="#ffe2e2" stroke="#c84848" stroke-width="1.2"/>
<rect x="295.85" y="1208.49" width="4.55" height="137.11" fill="#fa7676" stroke="#c03030" stroke-width="1.2"/>
<rect x="301.6" y="1201.76" width="4.55" height="143.84" fill="#c0c0fc" stroke="#1a1a1a" stroke-width="1.2"/>
<rect x="307.35" y="1196.52" width="4.55" height="149.08" fill="#5555f2" stroke="#1c1cc0" stroke-width="1.2"/>
<line x1="298.12" y1="1207.89" x2="298.12" y2="1189.93" stroke="#a80000" stroke-width="1.2"/>
<line x1="295.93" y1="1189.93" x2="300.32" y2="1189.93" stroke="#a80000" stroke-width="1.2"/>
<rect x="318" y="1341.34" width="4.55" height="4.26" fill="#ffe2e2" stroke="#c84848" stroke-width="1.2"/>
<rect x="323.75" y="1341.34" width="4.55" height="4.26" fill="#fa7676" stroke="#c03030" stroke-width="1.2"/>
<rect x="329.5" y="1339.84" width="4.55" height="5.76" fill="#c0c0fc" stroke="#1a1a1a" stroke-width="1.2"/>
<rect x="335.25" y="1339.09" width="4.55" height="6.51" fill="#5555f2" stroke="#1c1cc0" stroke-width="1.2"/>
<rect x="417.5" y="1157.3" width="249" height="185.9" fill="none" stroke="#1a1a1a" stroke-width="1.3"/>
<line x1="409.3" y1="1343.2" x2="417.5" y2="1343.2" stroke="#1a1a1a" stroke-width="1.3"/>
<text x="406.7" y="1349.4" font-size="17.2" text-anchor="end" font-weight="normal" font-style="normal" fill="#000">0</text>
<line x1="409.3" y1="1306.02" x2="417.5" y2="1306.02" stroke="#1a1a1a" stroke-width="1.3"/>
<text x="406.7" y="1312.22" font-size="17.2" text-anchor="end" font-weight="normal" font-style="normal" fill="#000">10</text>
<line x1="409.3" y1="1268.84" x2="417.5" y2="1268.84" stroke="#1a1a1a" stroke-width="1.3"/>
<text x="406.7" y="1275.04" font-size="17.2" text-anchor="end" font-weight="normal" font-style="normal" fill="#000">20</text>
<line x1="409.3" y1="1231.66" x2="417.5" y2="1231.66" stroke="#1a1a1a" stroke-width="1.3"/>
<text x="406.7" y="1237.86" font-size="17.2" text-anchor="end" font-weight="normal" font-style="normal" fill="#000">30</text>
<line x1="409.3" y1="1194.48" x2="417.5" y2="1194.48" stroke="#1a1a1a" stroke-width="1.3"/>
<text x="406.7" y="1200.68" font-size="17.2" text-anchor="end" font-weight="normal" font-style="normal" fill="#000">40</text>
<line x1="409.3" y1="1157.3" x2="417.5" y2="1157.3" stroke="#1a1a1a" stroke-width="1.3"/>
<text x="406.7" y="1163.5" font-size="17.2" text-anchor="end" font-weight="normal" font-style="normal" fill="#000">50</text>
<text x="375.9" y="1250" font-size="23" text-anchor="middle" font-weight="normal" font-style="normal" fill="#000" transform="rotate(-90 375.9 1250)">Percentage (%)</text>
<line x1="430.6" y1="1343.2" x2="430.6" y2="1352.2" stroke="#1a1a1a" stroke-width="1.3"/>
<line x1="458.4" y1="1343.2" x2="458.4" y2="1352.2" stroke="#1a1a1a" stroke-width="1.3"/>
<line x1="486.2" y1="1343.2" x2="486.2" y2="1352.2" stroke="#1a1a1a" stroke-width="1.3"/>
<line x1="514" y1="1343.2" x2="514" y2="1352.2" stroke="#1a1a1a" stroke-width="1.3"/>
<line x1="541.8" y1="1343.2" x2="541.8" y2="1352.2" stroke="#1a1a1a" stroke-width="1.3"/>
<line x1="569.6" y1="1343.2" x2="569.6" y2="1352.2" stroke="#1a1a1a" stroke-width="1.3"/>
<line x1="597.4" y1="1343.2" x2="597.4" y2="1352.2" stroke="#1a1a1a" stroke-width="1.3"/>
<line x1="625.2" y1="1343.2" x2="625.2" y2="1352.2" stroke="#1a1a1a" stroke-width="1.3"/>
<line x1="653" y1="1343.2" x2="653" y2="1352.2" stroke="#1a1a1a" stroke-width="1.3"/>
<text x="434.1" y="1370.5" font-size="17.5" text-anchor="end" font-weight="normal" font-style="normal" fill="#000" transform="rotate(-35 434.1 1370.5)">iC14:0</text>
<text x="461.9" y="1370.5" font-size="17.5" text-anchor="end" font-weight="normal" font-style="normal" fill="#000" transform="rotate(-35 461.9 1370.5)">iC15:0</text>
<text x="489.7" y="1370.5" font-size="17.5" text-anchor="end" font-weight="normal" font-style="normal" fill="#000" transform="rotate(-35 489.7 1370.5)">aC15:0</text>
<text x="517.5" y="1370.5" font-size="17.5" text-anchor="end" font-weight="normal" font-style="normal" fill="#000" transform="rotate(-35 517.5 1370.5)">iC16:0</text>
<text x="545.3" y="1370.5" font-size="17.5" text-anchor="end" font-weight="normal" font-style="normal" fill="#000" transform="rotate(-35 545.3 1370.5)">C16:0</text>
<text x="573.1" y="1370.5" font-size="17.5" text-anchor="end" font-weight="normal" font-style="normal" fill="#000" transform="rotate(-35 573.1 1370.5)">iC17:0</text>
<text x="600.9" y="1370.5" font-size="17.5" text-anchor="end" font-weight="normal" font-style="normal" fill="#000" transform="rotate(-35 600.9 1370.5)">C16:1</text>
<text x="628.7" y="1370.5" font-size="17.5" text-anchor="end" font-weight="normal" font-style="normal" fill="#000" transform="rotate(-35 628.7 1370.5)">C18:0</text>
<text x="656.5" y="1370.5" font-size="17.5" text-anchor="end" font-weight="normal" font-style="normal" fill="#000" transform="rotate(-35 656.5 1370.5)">C20:0</text>
<rect x="419.7" y="1315.91" width="4.55" height="27.28" fill="#ffe2e2" stroke="#c84848" stroke-width="1.2"/>
<rect x="425.45" y="1317.77" width="4.55" height="25.43" fill="#fa7676" stroke="#c03030" stroke-width="1.2"/>
<rect x="431.2" y="1314.06" width="4.55" height="29.14" fill="#c0c0fc" stroke="#1a1a1a" stroke-width="1.2"/>
<rect x="436.95" y="1319.63" width="4.55" height="23.57" fill="#5555f2" stroke="#1c1cc0" stroke-width="1.2"/>
<rect x="447.5" y="1289.89" width="4.55" height="53.31" fill="#ffe2e2" stroke="#c84848" stroke-width="1.2"/>
<rect x="453.25" y="1289.89" width="4.55" height="53.31" fill="#fa7676" stroke="#c03030" stroke-width="1.2"/>
<rect x="459" y="1288.77" width="4.55" height="54.43" fill="#c0c0fc" stroke="#1a1a1a" stroke-width="1.2"/>
<rect x="464.75" y="1291" width="4.55" height="52.2" fill="#5555f2" stroke="#1c1cc0" stroke-width="1.2"/>
<rect x="475.3" y="1219.25" width="4.55" height="123.95" fill="#ffe2e2" stroke="#c84848" stroke-width="1.2"/>
<rect x="481.05" y="1219.25" width="4.55" height="123.95" fill="#fa7676" stroke="#c03030" stroke-width="1.2"/>
<rect x="486.8" y="1220.36" width="4.55" height="122.84" fill="#c0c0fc" stroke="#1a1a1a" stroke-width="1.2"/>
<rect x="492.55" y="1222.96" width="4.55" height="120.24" fill="#5555f2" stroke="#1c1cc0" stroke-width="1.2"/>
<rect x="503.1" y="1316.66" width="4.55" height="26.54" fill="#ffe2e2" stroke="#c84848" stroke-width="1.2"/>
<rect x="508.85" y="1317.77" width="4.55" height="25.43" fill="#fa7676" stroke="#c03030" stroke-width="1.2"/>
<rect x="514.6" y="1315.91" width="4.55" height="27.28" fill="#c0c0fc" stroke="#1a1a1a" stroke-width="1.2"/>
<rect x="520.35" y="1315.91" width="4.55" height="27.28" fill="#5555f2" stroke="#1c1cc0" stroke-width="1.2"/>
<rect x="530.9" y="1312.2" width="4.55" height="31" fill="#ffe2e2" stroke="#c84848" stroke-width="1.2"/>
<rect x="536.65" y="1313.31" width="4.55" height="29.89" fill="#fa7676" stroke="#c03030" stroke-width="1.2"/>
<rect x="542.4" y="1311.83" width="4.55" height="31.37" fill="#c0c0fc" stroke="#1a1a1a" stroke-width="1.2"/>
<rect x="548.15" y="1311.83" width="4.55" height="31.37" fill="#5555f2" stroke="#1c1cc0" stroke-width="1.2"/>
<rect x="558.7" y="1323.72" width="4.55" height="19.48" fill="#ffe2e2" stroke="#c84848" stroke-width="1.2"/>
<rect x="564.45" y="1323.72" width="4.55" height="19.48" fill="#fa7676" stroke="#c03030" stroke-width="1.2"/>
<rect x="570.2" y="1325.21" width="4.55" height="17.99" fill="#c0c0fc" stroke="#1a1a1a" stroke-width="1.2"/>
<rect x="575.95" y="1323.72" width="4.55" height="19.48" fill="#5555f2" stroke="#1c1cc0" stroke-width="1.2"/>
<rect x="586.5" y="1320.38" width="4.55" height="22.82" fill="#ffe2e2" stroke="#c84848" stroke-width="1.2"/>
<rect x="592.25" y="1320.75" width="4.55" height="22.45" fill="#fa7676" stroke="#c03030" stroke-width="1.2"/>
<rect x="598" y="1319.63" width="4.55" height="23.57" fill="#c0c0fc" stroke="#1a1a1a" stroke-width="1.2"/>
<rect x="603.75" y="1319.26" width="4.55" height="23.94" fill="#5555f2" stroke="#1c1cc0" stroke-width="1.2"/>
<rect x="614.3" y="1291.75" width="4.55" height="51.45" fill="#ffe2e2" stroke="#c84848" stroke-width="1.2"/>
<rect x="620.05" y="1293.24" width="4.55" height="49.96" fill="#fa7676" stroke="#c03030" stroke-width="1.2"/>
<rect x="625.8" y="1291" width="4.55" height="52.2" fill="#c0c0fc" stroke="#1a1a1a" stroke-width="1.2"/>
<rect x="631.55" y="1288.77" width="4.55" height="54.43" fill="#5555f2" stroke="#1c1cc0" stroke-width="1.2"/>
<rect x="642.1" y="1326.7" width="4.55" height="16.5" fill="#ffe2e2" stroke="#c84848" stroke-width="1.2"/>
<rect x="647.85" y="1326.7" width="4.55" height="16.5" fill="#fa7676" stroke="#c03030" stroke-width="1.2"/>
<rect x="653.6" y="1326.7" width="4.55" height="16.5" fill="#c0c0fc" stroke="#1a1a1a" stroke-width="1.2"/>
<rect x="659.35" y="1325.58" width="4.55" height="17.62" fill="#5555f2" stroke="#1c1cc0" stroke-width="1.2"/>
<rect x="524.65" y="1167.55" width="20.7" height="9.5" fill="#ffe0e0" stroke="#b40000" stroke-width="1.3"/>
<text x="558.3" y="1177.7" font-size="17.7" text-anchor="start" font-weight="normal" font-style="normal" fill="#000">Ctrl</text>
<rect x="524.65" y="1188.45" width="20.7" height="9.5" fill="#ff7878" stroke="#c00000" stroke-width="1.3"/>
<text x="558.3" y="1198.8" font-size="17.7" text-anchor="start" font-weight="normal" font-style="normal" fill="#000">CAP</text>
<rect x="524.8" y="1213.2" width="20.4" height="9.2" fill="#c0c0ff" stroke="#1a1a1a" stroke-width="1.6"/>
<text x="558.3" y="1223.7" font-size="17.7" text-anchor="start" font-weight="normal" font-style="normal" fill="#000">Ctrl</text>
<rect x="524.65" y="1234.75" width="20.7" height="9.5" fill="#5555f5" stroke="#0000a8" stroke-width="1.3"/>
<text x="558.3" y="1245.7" font-size="17.7" text-anchor="start" font-weight="normal" font-style="normal" fill="#000">CAP</text>
<path d="M597.3 1168.5 H602.4 V1193.5 H597.3" stroke="#222" stroke-width="1.3" fill="none"/>
<path d="M596.6 1215.2 H601.7 V1239.5 H596.6" stroke="#222" stroke-width="1.3" fill="none"/>
<text x="605.3" y="1185" font-size="17.5" text-anchor="start" font-weight="normal" font-style="normal" fill="#000">pH 7.4</text>
<text x="605.1" y="1231.6" font-size="17.5" text-anchor="start" font-weight="normal" font-style="normal" fill="#000">pH 4.5</text>
<line x1="89.55" y1="283.5" x2="335.05" y2="283.5" stroke="#1a1a1a" stroke-width="1.3"/>
<line x1="424.85" y1="282.5" x2="669.95" y2="282.5" stroke="#1a1a1a" stroke-width="1.3"/>
<line x1="91.95" y1="659.6" x2="336.95" y2="659.6" stroke="#1a1a1a" stroke-width="1.3"/>
<line x1="432.95" y1="647.5" x2="668.65" y2="647.5" stroke="#1a1a1a" stroke-width="1.3"/>
<line x1="91.95" y1="1000.4" x2="331.15" y2="1000.4" stroke="#1a1a1a" stroke-width="1.3"/>
<line x1="429.15" y1="1000.1" x2="668.65" y2="1000.1" stroke="#1a1a1a" stroke-width="1.3"/>
<line x1="91.95" y1="1345.6" x2="343.85" y2="1345.6" stroke="#1a1a1a" stroke-width="1.3"/>
<line x1="416.85" y1="1343.2" x2="667.15" y2="1343.2" stroke="#1a1a1a" stroke-width="1.3"/>
<circle cx="113.1" cy="261.01" r="2.8" fill="#f25c5c" stroke="#a50000" stroke-width="1.2"/>
<circle cx="104.8" cy="273.43" r="2.8" fill="#f25c5c" stroke="#a50000" stroke-width="1.2"/>
<circle cx="121.8" cy="273.43" r="2.8" fill="#f25c5c" stroke="#a50000" stroke-width="1.2"/>
<circle cx="139.6" cy="273.63" r="2.8" fill="#f25c5c" stroke="#a50000" stroke-width="1.2"/>
<circle cx="156.8" cy="269.25" r="2.8" fill="#f25c5c" stroke="#a50000" stroke-width="1.2"/>
<circle cx="183" cy="261.12" r="2.8" fill="#f25c5c" stroke="#a50000" stroke-width="1.2"/>
<circle cx="183" cy="269.25" r="2.8" fill="#f25c5c" stroke="#a50000" stroke-width="1.2"/>
<rect x="229.5" y="274.39" width="6" height="6" fill="#5a5af0" stroke="#0000c8" stroke-width="1.2"/>
<rect x="246.4" y="270.32" width="6" height="6" fill="#5a5af0" stroke="#0000c8" stroke-width="1.2"/>
<rect x="273" y="257.5" width="6" height="6" fill="#5a5af0" stroke="#0000c8" stroke-width="1.2"/>
<rect x="264.3" y="270.32" width="6" height="6" fill="#5a5af0" stroke="#0000c8" stroke-width="1.2"/>
<rect x="281.2" y="266.25" width="6" height="6" fill="#5a5af0" stroke="#0000c8" stroke-width="1.2"/>
<rect x="299.3" y="262.19" width="6" height="6" fill="#5a5af0" stroke="#0000c8" stroke-width="1.2"/>
<rect x="316.2" y="258.12" width="6" height="6" fill="#5a5af0" stroke="#0000c8" stroke-width="1.2"/>
<circle cx="439.9" cy="265.2" r="2.7" fill="#f25c5c" stroke="#a50000" stroke-width="1.2"/>
<circle cx="443.6" cy="265.51" r="2.7" fill="#f25c5c" stroke="#a50000" stroke-width="1.2"/>
<circle cx="448.7" cy="264.8" r="2.7" fill="#f25c5c" stroke="#a50000" stroke-width="1.2"/>
<circle cx="450.8" cy="264.8" r="2.7" fill="#f25c5c" stroke="#a50000" stroke-width="1.2"/>
<circle cx="453.8" cy="267.85" r="2.7" fill="#f25c5c" stroke="#a50000" stroke-width="1.2"/>
<circle cx="457.4" cy="265.51" r="2.7" fill="#f25c5c" stroke="#a50000" stroke-width="1.2"/>
<circle cx="448.2" cy="267.85" r="2.7" fill="#f25c5c" stroke="#a50000" stroke-width="1.2"/>
<circle cx="448.2" cy="275.07" r="2.7" fill="#f25c5c" stroke="#a50000" stroke-width="1.2"/>
<circle cx="478.5" cy="260.42" r="2.7" fill="#f25c5c" stroke="#a50000" stroke-width="1.2"/>
<circle cx="474.7" cy="265.51" r="2.7" fill="#f25c5c" stroke="#a50000" stroke-width="1.2"/>
<circle cx="481.7" cy="266.32" r="2.7" fill="#f25c5c" stroke="#a50000" stroke-width="1.2"/>
<circle cx="484.9" cy="262.96" r="2.7" fill="#f25c5c" stroke="#a50000" stroke-width="1.2"/>
<circle cx="491.9" cy="262.35" r="2.7" fill="#f25c5c" stroke="#a50000" stroke-width="1.2"/>
<circle cx="488.7" cy="266.32" r="2.7" fill="#f25c5c" stroke="#a50000" stroke-width="1.2"/>
<circle cx="478.5" cy="271.82" r="2.7" fill="#f25c5c" stroke="#a50000" stroke-width="1.2"/>
<circle cx="484.9" cy="271.21" r="2.7" fill="#f25c5c" stroke="#a50000" stroke-width="1.2"/>
<circle cx="509.5" cy="257.47" r="2.7" fill="#f25c5c" stroke="#a50000" stroke-width="1.2"/>
<circle cx="515" cy="257.47" r="2.7" fill="#f25c5c" stroke="#a50000" stroke-width="1.2"/>
<circle cx="520.8" cy="257.47" r="2.7" fill="#f25c5c" stroke="#a50000" stroke-width="1.2"/>
<circle cx="526.7" cy="257.47" r="2.7" fill="#f25c5c" stroke="#a50000" stroke-width="1.2"/>
<circle cx="509.5" cy="264.8" r="2.7" fill="#f25c5c" stroke="#a50000" stroke-width="1.2"/>
<circle cx="515" cy="264.8" r="2.7" fill="#f25c5c" stroke="#a50000" stroke-width="1.2"/>
<circle cx="520.8" cy="264.8" r="2.7" fill="#f25c5c" stroke="#a50000" stroke-width="1.2"/>
<circle cx="526.7" cy="264.8" r="2.7" fill="#f25c5c" stroke="#a50000" stroke-width="1.2"/>
<rect x="564.2" y="266.47" width="5" height="5" fill="#5a5af0" stroke="#0000c8" stroke-width="1.2"/>
<rect x="568.1" y="265.35" width="5" height="5" fill="#5a5af0" stroke="#0000c8" stroke-width="1.2"/>
<rect x="571.9" y="264.64" width="5" height="5" fill="#5a5af0" stroke="#0000c8" stroke-width="1.2"/>
<rect x="575.8" y="264.23" width="5" height="5" fill="#5a5af0" stroke="#0000c8" stroke-width="1.2"/>
<rect x="579.5" y="266.16" width="5" height="5" fill="#5a5af0" stroke="#0000c8" stroke-width="1.2"/>
<rect x="583.1" y="266.16" width="5" height="5" fill="#5a5af0" stroke="#0000c8" stroke-width="1.2"/>
<rect x="568.6" y="273.18" width="5" height="5" fill="#5a5af0" stroke="#0000c8" stroke-width="1.2"/>
<rect x="575.4" y="271.25" width="5" height="5" fill="#5a5af0" stroke="#0000c8" stroke-width="1.2"/>
<rect x="572.2" y="268.4" width="5" height="5" fill="#5a5af0" stroke="#0000c8" stroke-width="1.2"/>
<rect x="579.5" y="269.01" width="5" height="5" fill="#5a5af0" stroke="#0000c8" stroke-width="1.2"/>
<rect x="607.1" y="258.02" width="5" height="5" fill="#5a5af0" stroke="#0000c8" stroke-width="1.2"/>
<rect x="599.8" y="263.92" width="5" height="5" fill="#5a5af0" stroke="#0000c8" stroke-width="1.2"/>
<rect x="603.5" y="263.62" width="5" height="5" fill="#5a5af0" stroke="#0000c8" stroke-width="1.2"/>
<rect x="607.9" y="265.35" width="5" height="5" fill="#5a5af0" stroke="#0000c8" stroke-width="1.2"/>
<rect x="612.2" y="266.16" width="5" height="5" fill="#5a5af0" stroke="#0000c8" stroke-width="1.2"/>
<rect x="616.6" y="264.64" width="5" height="5" fill="#5a5af0" stroke="#0000c8" stroke-width="1.2"/>
<rect x="603.5" y="271.96" width="5" height="5" fill="#5a5af0" stroke="#0000c8" stroke-width="1.2"/>
<rect x="607.9" y="266.87" width="5" height="5" fill="#5a5af0" stroke="#0000c8" stroke-width="1.2"/>
<rect x="645.8" y="249.98" width="5" height="5" fill="#5a5af0" stroke="#0000c8" stroke-width="1.2"/>
<rect x="640" y="252.93" width="5" height="5" fill="#5a5af0" stroke="#0000c8" stroke-width="1.2"/>
<rect x="645.8" y="259.55" width="5" height="5" fill="#5a5af0" stroke="#0000c8" stroke-width="1.2"/>
<rect x="640" y="263.92" width="5" height="5" fill="#5a5af0" stroke="#0000c8" stroke-width="1.2"/>
<rect x="634.1" y="266.16" width="5" height="5" fill="#5a5af0" stroke="#0000c8" stroke-width="1.2"/>
<rect x="651.7" y="266.16" width="5" height="5" fill="#5a5af0" stroke="#0000c8" stroke-width="1.2"/>
<rect x="645.8" y="267.69" width="5" height="5" fill="#5a5af0" stroke="#0000c8" stroke-width="1.2"/>
<rect x="640" y="272.67" width="5" height="5" fill="#5a5af0" stroke="#0000c8" stroke-width="1.2"/>
<circle cx="114.7" cy="624.53" r="1.8" fill="#f04848" stroke="#a50000" stroke-width="1.2"/>
<circle cx="114.7" cy="629.11" r="1.8" fill="#f04848" stroke="#a50000" stroke-width="1.2"/>
<circle cx="114.7" cy="636.02" r="1.8" fill="#f04848" stroke="#a50000" stroke-width="1.2"/>
<circle cx="149.8" cy="620.46" r="1.8" fill="#f04848" stroke="#a50000" stroke-width="1.2"/>
<circle cx="145.5" cy="639.27" r="1.8" fill="#f04848" stroke="#a50000" stroke-width="1.2"/>
<circle cx="154.3" cy="637.24" r="1.8" fill="#f04848" stroke="#a50000" stroke-width="1.2"/>
<circle cx="180.7" cy="628.7" r="1.8" fill="#f04848" stroke="#a50000" stroke-width="1.2"/>
<circle cx="189.1" cy="628.7" r="1.8" fill="#f04848" stroke="#a50000" stroke-width="1.2"/>
<rect x="241.3" y="619.38" width="3.6" height="3.6" fill="#5a5af0" stroke="#0000c8" stroke-width="1.2"/>
<rect x="237.3" y="635.23" width="3.6" height="3.6" fill="#5a5af0" stroke="#0000c8" stroke-width="1.2"/>
<rect x="245.7" y="635.23" width="3.6" height="3.6" fill="#5a5af0" stroke="#0000c8" stroke-width="1.2"/>
<rect x="276.2" y="622.63" width="3.6" height="3.6" fill="#5a5af0" stroke="#0000c8" stroke-width="1.2"/>
<rect x="276.2" y="635.44" width="3.6" height="3.6" fill="#5a5af0" stroke="#0000c8" stroke-width="1.2"/>
<rect x="311.5" y="626.7" width="3.6" height="3.6" fill="#5a5af0" stroke="#0000c8" stroke-width="1.2"/>
<rect x="311.5" y="631.47" width="3.6" height="3.6" fill="#5a5af0" stroke="#0000c8" stroke-width="1.2"/>
<circle cx="447.3" cy="632.55" r="2.4" fill="#f25c5c" stroke="#a50000" stroke-width="1.2"/>
<circle cx="451.7" cy="635.95" r="2.4" fill="#f25c5c" stroke="#a50000" stroke-width="1.2"/>
<circle cx="455.3" cy="632.55" r="2.4" fill="#f25c5c" stroke="#a50000" stroke-width="1.2"/>
<circle cx="459.7" cy="634.88" r="2.4" fill="#f25c5c" stroke="#a50000" stroke-width="1.2"/>
<circle cx="464.1" cy="634.88" r="2.4" fill="#f25c5c" stroke="#a50000" stroke-width="1.2"/>
<circle cx="451" cy="645.36" r="2.4" fill="#f25c5c" stroke="#a50000" stroke-width="1.2"/>
<circle cx="455.3" cy="643.91" r="2.4" fill="#f25c5c" stroke="#a50000" stroke-width="1.2"/>
<circle cx="460.1" cy="643.91" r="2.4" fill="#f25c5c" stroke="#a50000" stroke-width="1.2"/>
<circle cx="480.9" cy="623.24" r="2.4" fill="#f25c5c" stroke="#a50000" stroke-width="1.2"/>
<circle cx="485.3" cy="622.07" r="2.4" fill="#f25c5c" stroke="#a50000" stroke-width="1.2"/>
<circle cx="489.6" cy="623.53" r="2.4" fill="#f25c5c" stroke="#a50000" stroke-width="1.2"/>
<circle cx="497.7" cy="623.24" r="2.4" fill="#f25c5c" stroke="#a50000" stroke-width="1.2"/>
<circle cx="485.3" cy="628.67" r="2.4" fill="#f25c5c" stroke="#a50000" stroke-width="1.2"/>
<circle cx="493.3" cy="629.06" r="2.4" fill="#f25c5c" stroke="#a50000" stroke-width="1.2"/>
<circle cx="491.8" cy="636.34" r="2.4" fill="#f25c5c" stroke="#a50000" stroke-width="1.2"/>
<circle cx="487" cy="639.83" r="2.4" fill="#f25c5c" stroke="#a50000" stroke-width="1.2"/>
<circle cx="514.5" cy="616.35" r="2.4" fill="#f25c5c" stroke="#a50000" stroke-width="1.2"/>
<circle cx="519.6" cy="615.47" r="2.4" fill="#f25c5c" stroke="#a50000" stroke-width="1.2"/>
<circle cx="526.1" cy="616.35" r="2.4" fill="#f25c5c" stroke="#a50000" stroke-width="1.2"/>
<circle cx="531.2" cy="615.09" r="2.4" fill="#f25c5c" stroke="#a50000" stroke-width="1.2"/>
<circle cx="518.1" cy="618.38" r="2.4" fill="#f25c5c" stroke="#a50000" stroke-width="1.2"/>
<circle cx="527.6" cy="618.38" r="2.4" fill="#f25c5c" stroke="#a50000" stroke-width="1.2"/>
<circle cx="523.9" cy="620.62" r="2.4" fill="#f25c5c" stroke="#a50000" stroke-width="1.2"/>
<circle cx="524.7" cy="631.58" r="2.4" fill="#f25c5c" stroke="#a50000" stroke-width="1.2"/>
<circle cx="521" cy="635.66" r="2.4" fill="#f25c5c" stroke="#a50000" stroke-width="1.2"/>
<rect x="576.3" y="610.26" width="4.8" height="4.8" fill="#5a5af0" stroke="#0000c8" stroke-width="1.2"/>
<rect x="576.3" y="628.7" width="4.8" height="4.8" fill="#5a5af0" stroke="#0000c8" stroke-width="1.2"/>
<rect x="567.5" y="637.53" width="4.8" height="4.8" fill="#5a5af0" stroke="#0000c8" stroke-width="1.2"/>
<rect x="572.9" y="637.14" width="4.8" height="4.8" fill="#5a5af0" stroke="#0000c8" stroke-width="1.2"/>
<rect x="578.8" y="637.14" width="4.8" height="4.8" fill="#5a5af0" stroke="#0000c8" stroke-width="1.2"/>
<rect x="584.6" y="637.14" width="4.8" height="4.8" fill="#5a5af0" stroke="#0000c8" stroke-width="1.2"/>
<rect x="572.9" y="644.42" width="4.8" height="4.8" fill="#5a5af0" stroke="#0000c8" stroke-width="1.2"/>
<rect x="579.2" y="643.64" width="4.8" height="4.8" fill="#5a5af0" stroke="#0000c8" stroke-width="1.2"/>
<rect x="606.9" y="588.42" width="4.8" height="4.8" fill="#5a5af0" stroke="#0000c8" stroke-width="1.2"/>
<rect x="612.8" y="590.46" width="4.8" height="4.8" fill="#5a5af0" stroke="#0000c8" stroke-width="1.2"/>
<rect x="609.4" y="600.26" width="4.8" height="4.8" fill="#5a5af0" stroke="#0000c8" stroke-width="1.2"/>
<rect x="601.4" y="608.71" width="4.8" height="4.8" fill="#5a5af0" stroke="#0000c8" stroke-width="1.2"/>
<rect x="607.2" y="611.13" width="4.8" height="4.8" fill="#5a5af0" stroke="#0000c8" stroke-width="1.2"/>
<rect x="612.3" y="610.16" width="4.8" height="4.8" fill="#5a5af0" stroke="#0000c8" stroke-width="1.2"/>
<rect x="617.7" y="613.07" width="4.8" height="4.8" fill="#5a5af0" stroke="#0000c8" stroke-width="1.2"/>
<rect x="609.4" y="621.32" width="4.8" height="4.8" fill="#5a5af0" stroke="#0000c8" stroke-width="1.2"/>
<rect x="643.4" y="472.35" width="4.8" height="4.8" fill="#5a5af0" stroke="#0000c8" stroke-width="1.2"/>
<rect x="643.4" y="496.61" width="4.8" height="4.8" fill="#5a5af0" stroke="#0000c8" stroke-width="1.2"/>
<rect x="643.4" y="571.34" width="4.8" height="4.8" fill="#5a5af0" stroke="#0000c8" stroke-width="1.2"/>
<rect x="635" y="608.22" width="4.8" height="4.8" fill="#5a5af0" stroke="#0000c8" stroke-width="1.2"/>
<rect x="640.5" y="601.62" width="4.8" height="4.8" fill="#5a5af0" stroke="#0000c8" stroke-width="1.2"/>
<rect x="645.9" y="606.09" width="4.8" height="4.8" fill="#5a5af0" stroke="#0000c8" stroke-width="1.2"/>
<rect x="651.3" y="603.37" width="4.8" height="4.8" fill="#5a5af0" stroke="#0000c8" stroke-width="1.2"/>
<circle cx="105.8" cy="998.97" r="1.9" fill="#f25c5c" stroke="#a50000" stroke-width="1"/>
<circle cx="109.9" cy="998.16" r="1.9" fill="#f25c5c" stroke="#a50000" stroke-width="1"/>
<circle cx="113.4" cy="998.97" r="1.9" fill="#f25c5c" stroke="#a50000" stroke-width="1"/>
<circle cx="116.8" cy="998.16" r="1.9" fill="#f25c5c" stroke="#a50000" stroke-width="1"/>
<circle cx="120.4" cy="999.99" r="1.9" fill="#f25c5c" stroke="#a50000" stroke-width="1"/>
<circle cx="124.1" cy="998.97" r="1.9" fill="#f25c5c" stroke="#a50000" stroke-width="1"/>
<circle cx="140.1" cy="999.79" r="1.9" fill="#f25c5c" stroke="#a50000" stroke-width="1"/>
<circle cx="143.8" cy="997.34" r="1.9" fill="#f25c5c" stroke="#a50000" stroke-width="1"/>
<circle cx="147" cy="999.38" r="1.9" fill="#f25c5c" stroke="#a50000" stroke-width="1"/>
<circle cx="150.8" cy="998.16" r="1.9" fill="#f25c5c" stroke="#a50000" stroke-width="1"/>
<circle cx="154.3" cy="1000.4" r="1.9" fill="#f25c5c" stroke="#a50000" stroke-width="1"/>
<circle cx="158.1" cy="999.38" r="1.9" fill="#f25c5c" stroke="#a50000" stroke-width="1"/>
<circle cx="174.2" cy="999.79" r="1.9" fill="#f25c5c" stroke="#a50000" stroke-width="1"/>
<circle cx="177.8" cy="996.32" r="1.9" fill="#f25c5c" stroke="#a50000" stroke-width="1"/>
<circle cx="181" cy="999.38" r="1.9" fill="#f25c5c" stroke="#a50000" stroke-width="1"/>
<circle cx="184.7" cy="998.56" r="1.9" fill="#f25c5c" stroke="#a50000" stroke-width="1"/>
<circle cx="188.3" cy="999.99" r="1.9" fill="#f25c5c" stroke="#a50000" stroke-width="1"/>
<circle cx="192" cy="998.97" r="1.9" fill="#f25c5c" stroke="#a50000" stroke-width="1"/>
<rect x="228.8" y="997.99" width="4" height="4" fill="#5a5af0" stroke="#0000c8" stroke-width="1"/>
<rect x="232.9" y="992.89" width="4" height="4" fill="#5a5af0" stroke="#0000c8" stroke-width="1"/>
<rect x="237.3" y="997.38" width="4" height="4" fill="#5a5af0" stroke="#0000c8" stroke-width="1"/>
<rect x="241.7" y="996.97" width="4" height="4" fill="#5a5af0" stroke="#0000c8" stroke-width="1"/>
<rect x="246.4" y="992.89" width="4" height="4" fill="#5a5af0" stroke="#0000c8" stroke-width="1"/>
<rect x="246.4" y="997.99" width="4" height="4" fill="#5a5af0" stroke="#0000c8" stroke-width="1"/>
<rect x="262.7" y="997.99" width="4" height="4" fill="#5a5af0" stroke="#0000c8" stroke-width="1"/>
<rect x="266.8" y="993.5" width="4" height="4" fill="#5a5af0" stroke="#0000c8" stroke-width="1"/>
<rect x="271.2" y="997.38" width="4" height="4" fill="#5a5af0" stroke="#0000c8" stroke-width="1"/>
<rect x="275.6" y="997.38" width="4" height="4" fill="#5a5af0" stroke="#0000c8" stroke-width="1"/>
<rect x="280.4" y="992.89" width="4" height="4" fill="#5a5af0" stroke="#0000c8" stroke-width="1"/>
<rect x="280.4" y="997.99" width="4" height="4" fill="#5a5af0" stroke="#0000c8" stroke-width="1"/>
<rect x="296.7" y="997.99" width="4" height="4" fill="#5a5af0" stroke="#0000c8" stroke-width="1"/>
<rect x="301.1" y="993.5" width="4" height="4" fill="#5a5af0" stroke="#0000c8" stroke-width="1"/>
<rect x="305.5" y="992.28" width="4" height="4" fill="#5a5af0" stroke="#0000c8" stroke-width="1"/>
<rect x="305.5" y="997.38" width="4" height="4" fill="#5a5af0" stroke="#0000c8" stroke-width="1"/>
<rect x="309.9" y="996.97" width="4" height="4" fill="#5a5af0" stroke="#0000c8" stroke-width="1"/>
<rect x="314.7" y="997.99" width="4" height="4" fill="#5a5af0" stroke="#0000c8" stroke-width="1"/>
<circle cx="452.6" cy="890.06" r="2.4" fill="#f25c5c" stroke="#a50000" stroke-width="1"/>
<circle cx="452.6" cy="940.5" r="2.4" fill="#f25c5c" stroke="#a50000" stroke-width="1"/>
<circle cx="446.8" cy="966.54" r="2.4" fill="#f25c5c" stroke="#a50000" stroke-width="1"/>
<circle cx="457.5" cy="966.54" r="2.4" fill="#f25c5c" stroke="#a50000" stroke-width="1"/>
<circle cx="486.4" cy="913.45" r="2.4" fill="#f25c5c" stroke="#a50000" stroke-width="1"/>
<circle cx="486.4" cy="931.35" r="2.4" fill="#f25c5c" stroke="#a50000" stroke-width="1"/>
<circle cx="481.2" cy="947.22" r="2.4" fill="#f25c5c" stroke="#a50000" stroke-width="1"/>
<circle cx="491.8" cy="947.22" r="2.4" fill="#f25c5c" stroke="#a50000" stroke-width="1"/>
<circle cx="514.9" cy="930.33" r="2.4" fill="#f25c5c" stroke="#a50000" stroke-width="1"/>
<circle cx="525.7" cy="927.69" r="2.4" fill="#f25c5c" stroke="#a50000" stroke-width="1"/>
<circle cx="514.9" cy="948.44" r="2.4" fill="#f25c5c" stroke="#a50000" stroke-width="1"/>
<circle cx="525.7" cy="948.44" r="2.4" fill="#f25c5c" stroke="#a50000" stroke-width="1"/>
<rect x="574.7" y="828.16" width="4.6" height="4.6" fill="#5a5af0" stroke="#0000c8" stroke-width="1"/>
<rect x="574.7" y="885.93" width="4.6" height="4.6" fill="#5a5af0" stroke="#0000c8" stroke-width="1"/>
<rect x="574.7" y="903.42" width="4.6" height="4.6" fill="#5a5af0" stroke="#0000c8" stroke-width="1"/>
<rect x="574.7" y="935.56" width="4.6" height="4.6" fill="#5a5af0" stroke="#0000c8" stroke-width="1"/>
<rect x="613.7" y="873.32" width="4.6" height="4.6" fill="#5a5af0" stroke="#0000c8" stroke-width="1"/>
<rect x="603.4" y="877.18" width="4.6" height="4.6" fill="#5a5af0" stroke="#0000c8" stroke-width="1"/>
<rect x="608.5" y="883.69" width="4.6" height="4.6" fill="#5a5af0" stroke="#0000c8" stroke-width="1"/>
<rect x="608.5" y="926.61" width="4.6" height="4.6" fill="#5a5af0" stroke="#0000c8" stroke-width="1"/>
<rect x="637.4" y="876.98" width="4.6" height="4.6" fill="#5a5af0" stroke="#0000c8" stroke-width="1"/>
<rect x="647.9" y="873.32" width="4.6" height="4.6" fill="#5a5af0" stroke="#0000c8" stroke-width="1"/>
<rect x="647.9" y="879.62" width="4.6" height="4.6" fill="#5a5af0" stroke="#0000c8" stroke-width="1"/>
<rect x="642.8" y="904.24" width="4.6" height="4.6" fill="#5a5af0" stroke="#0000c8" stroke-width="1"/>
<circle cx="97.08" cy="1342.23" r="2.3" fill="rgba(168,0,0,0.25)" stroke="#a80000" stroke-width="1.3"/>
<circle cx="97.08" cy="1342.61" r="2.3" fill="rgba(168,0,0,0.25)" stroke="#a80000" stroke-width="1.3"/>
<circle cx="102.83" cy="1342.23" r="2.3" fill="rgba(168,0,0,0.25)" stroke="#a80000" stroke-width="1.3"/>
<circle cx="102.83" cy="1341.86" r="2.3" fill="rgba(168,0,0,0.25)" stroke="#a80000" stroke-width="1.3"/>
<rect x="106.33" y="1341.48" width="4.5" height="4.5" fill="rgba(0,0,136,0.25)" stroke="#000088" stroke-width="1.3"/>
<rect x="112.08" y="1341.1" width="4.5" height="4.5" fill="rgba(0,0,136,0.25)" stroke="#000088" stroke-width="1.3"/>
<circle cx="124.97" cy="1341.11" r="2.3" fill="rgba(168,0,0,0.25)" stroke="#a80000" stroke-width="1.3"/>
<circle cx="124.97" cy="1341.48" r="2.3" fill="rgba(168,0,0,0.25)" stroke="#a80000" stroke-width="1.3"/>
<circle cx="130.72" cy="1339.99" r="2.3" fill="rgba(168,0,0,0.25)" stroke="#a80000" stroke-width="1.3"/>
<circle cx="130.72" cy="1340.74" r="2.3" fill="rgba(168,0,0,0.25)" stroke="#a80000" stroke-width="1.3"/>
<rect x="134.22" y="1338.86" width="4.5" height="4.5" fill="rgba(0,0,136,0.25)" stroke="#000088" stroke-width="1.3"/>
<rect x="139.97" y="1338.86" width="4.5" height="4.5" fill="rgba(0,0,136,0.25)" stroke="#000088" stroke-width="1.3"/>
<circle cx="152.88" cy="1242.69" r="2.3" fill="rgba(168,0,0,0.25)" stroke="#a80000" stroke-width="1.3"/>
<circle cx="152.88" cy="1244.57" r="2.3" fill="rgba(168,0,0,0.25)" stroke="#a80000" stroke-width="1.3"/>
<circle cx="152.88" cy="1243.44" r="2.3" fill="rgba(168,0,0,0.25)" stroke="#a80000" stroke-width="1.3"/>
<circle cx="158.62" cy="1231.47" r="2.3" fill="rgba(168,0,0,0.25)" stroke="#a80000" stroke-width="1.3"/>
<circle cx="158.62" cy="1240.82" r="2.3" fill="rgba(168,0,0,0.25)" stroke="#a80000" stroke-width="1.3"/>
<circle cx="158.62" cy="1242.69" r="2.3" fill="rgba(168,0,0,0.25)" stroke="#a80000" stroke-width="1.3"/>
<rect x="162.12" y="1237.45" width="4.5" height="4.5" fill="rgba(0,0,136,0.25)" stroke="#000088" stroke-width="1.3"/>
<rect x="162.12" y="1238.57" width="4.5" height="4.5" fill="rgba(0,0,136,0.25)" stroke="#000088" stroke-width="1.3"/>
<rect x="167.88" y="1239.32" width="4.5" height="4.5" fill="rgba(0,0,136,0.25)" stroke="#000088" stroke-width="1.3"/>
<rect x="167.88" y="1241.19" width="4.5" height="4.5" fill="rgba(0,0,136,0.25)" stroke="#000088" stroke-width="1.3"/>
<circle cx="180.77" cy="1267.77" r="2.3" fill="rgba(168,0,0,0.25)" stroke="#a80000" stroke-width="1.3"/>
<circle cx="180.77" cy="1270.01" r="2.3" fill="rgba(168,0,0,0.25)" stroke="#a80000" stroke-width="1.3"/>
<circle cx="180.77" cy="1270.76" r="2.3" fill="rgba(168,0,0,0.25)" stroke="#a80000" stroke-width="1.3"/>
<circle cx="186.52" cy="1260.28" r="2.3" fill="rgba(168,0,0,0.25)" stroke="#a80000" stroke-width="1.3"/>
<circle cx="186.52" cy="1272.63" r="2.3" fill="rgba(168,0,0,0.25)" stroke="#a80000" stroke-width="1.3"/>
<circle cx="186.52" cy="1268.89" r="2.3" fill="rgba(168,0,0,0.25)" stroke="#a80000" stroke-width="1.3"/>
<rect x="190.02" y="1268.88" width="4.5" height="4.5" fill="rgba(0,0,136,0.25)" stroke="#000088" stroke-width="1.3"/>
<rect x="195.77" y="1273" width="4.5" height="4.5" fill="rgba(0,0,136,0.25)" stroke="#000088" stroke-width="1.3"/>
<rect x="195.77" y="1274.87" width="4.5" height="4.5" fill="rgba(0,0,136,0.25)" stroke="#000088" stroke-width="1.3"/>
<circle cx="208.68" cy="1341.11" r="2.3" fill="rgba(168,0,0,0.25)" stroke="#a80000" stroke-width="1.3"/>
<circle cx="214.43" cy="1341.11" r="2.3" fill="rgba(168,0,0,0.25)" stroke="#a80000" stroke-width="1.3"/>
<rect x="217.93" y="1337.36" width="4.5" height="4.5" fill="rgba(0,0,136,0.25)" stroke="#000088" stroke-width="1.3"/>
<rect x="223.68" y="1337.36" width="4.5" height="4.5" fill="rgba(0,0,136,0.25)" stroke="#000088" stroke-width="1.3"/>
<circle cx="236.57" cy="1320.53" r="2.3" fill="rgba(168,0,0,0.25)" stroke="#a80000" stroke-width="1.3"/>
<circle cx="242.32" cy="1320.53" r="2.3" fill="rgba(168,0,0,0.25)" stroke="#a80000" stroke-width="1.3"/>
<rect x="245.82" y="1316.03" width="4.5" height="4.5" fill="rgba(0,0,136,0.25)" stroke="#000088" stroke-width="1.3"/>
<rect x="251.57" y="1315.28" width="4.5" height="4.5" fill="rgba(0,0,136,0.25)" stroke="#000088" stroke-width="1.3"/>
<circle cx="264.47" cy="1340.74" r="2.3" fill="rgba(168,0,0,0.25)" stroke="#a80000" stroke-width="1.3"/>
<circle cx="270.22" cy="1340.74" r="2.3" fill="rgba(168,0,0,0.25)" stroke="#a80000" stroke-width="1.3"/>
<rect x="273.72" y="1337.74" width="4.5" height="4.5" fill="rgba(0,0,136,0.25)" stroke="#000088" stroke-width="1.3"/>
<rect x="279.47" y="1336.99" width="4.5" height="4.5" fill="rgba(0,0,136,0.25)" stroke="#000088" stroke-width="1.3"/>
<circle cx="292.38" cy="1196.67" r="2.3" fill="rgba(168,0,0,0.25)" stroke="#a80000" stroke-width="1.3"/>
<circle cx="292.38" cy="1199.66" r="2.3" fill="rgba(168,0,0,0.25)" stroke="#a80000" stroke-width="1.3"/>
<circle cx="292.38" cy="1201.53" r="2.3" fill="rgba(168,0,0,0.25)" stroke="#a80000" stroke-width="1.3"/>
<circle cx="298.12" cy="1194.05" r="2.3" fill="rgba(168,0,0,0.25)" stroke="#a80000" stroke-width="1.3"/>
<circle cx="298.12" cy="1207.15" r="2.3" fill="rgba(168,0,0,0.25)" stroke="#a80000" stroke-width="1.3"/>
<circle cx="298.12" cy="1219.49" r="2.3" fill="rgba(168,0,0,0.25)" stroke="#a80000" stroke-width="1.3"/>
<rect x="301.62" y="1198.53" width="4.5" height="4.5" fill="rgba(0,0,136,0.25)" stroke="#000088" stroke-width="1.3"/>
<rect x="301.62" y="1200.03" width="4.5" height="4.5" fill="rgba(0,0,136,0.25)" stroke="#000088" stroke-width="1.3"/>
<rect x="307.38" y="1190.3" width="4.5" height="4.5" fill="rgba(0,0,136,0.25)" stroke="#000088" stroke-width="1.3"/>
<rect x="307.38" y="1193.67" width="4.5" height="4.5" fill="rgba(0,0,136,0.25)" stroke="#000088" stroke-width="1.3"/>
<rect x="307.38" y="1197.41" width="4.5" height="4.5" fill="rgba(0,0,136,0.25)" stroke="#000088" stroke-width="1.3"/>
<circle cx="320.27" cy="1340.74" r="2.3" fill="rgba(168,0,0,0.25)" stroke="#a80000" stroke-width="1.3"/>
<circle cx="326.02" cy="1340.74" r="2.3" fill="rgba(168,0,0,0.25)" stroke="#a80000" stroke-width="1.3"/>
<rect x="329.52" y="1336.99" width="4.5" height="4.5" fill="rgba(0,0,136,0.25)" stroke="#000088" stroke-width="1.3"/>
<rect x="335.27" y="1336.24" width="4.5" height="4.5" fill="rgba(0,0,136,0.25)" stroke="#000088" stroke-width="1.3"/>
<circle cx="421.98" cy="1322.75" r="2.3" fill="rgba(168,0,0,0.25)" stroke="#a80000" stroke-width="1.3"/>
<circle cx="421.98" cy="1318.41" r="2.3" fill="rgba(168,0,0,0.25)" stroke="#a80000" stroke-width="1.3"/>
<circle cx="421.98" cy="1314.08" r="2.3" fill="rgba(168,0,0,0.25)" stroke="#a80000" stroke-width="1.3"/>
<circle cx="421.98" cy="1309.74" r="2.3" fill="rgba(168,0,0,0.25)" stroke="#a80000" stroke-width="1.3"/>
<circle cx="427.73" cy="1323.12" r="2.3" fill="rgba(168,0,0,0.25)" stroke="#a80000" stroke-width="1.3"/>
<circle cx="427.73" cy="1319.4" r="2.3" fill="rgba(168,0,0,0.25)" stroke="#a80000" stroke-width="1.3"/>
<circle cx="427.73" cy="1315.69" r="2.3" fill="rgba(168,0,0,0.25)" stroke="#a80000" stroke-width="1.3"/>
<circle cx="427.73" cy="1311.97" r="2.3" fill="rgba(168,0,0,0.25)" stroke="#a80000" stroke-width="1.3"/>
<rect x="431.23" y="1319.01" width="4.5" height="4.5" fill="rgba(0,0,136,0.25)" stroke="#000088" stroke-width="1.3"/>
<rect x="431.23" y="1314.43" width="4.5" height="4.5" fill="rgba(0,0,136,0.25)" stroke="#000088" stroke-width="1.3"/>
<rect x="431.23" y="1309.84" width="4.5" height="4.5" fill="rgba(0,0,136,0.25)" stroke="#000088" stroke-width="1.3"/>
<rect x="431.23" y="1305.26" width="4.5" height="4.5" fill="rgba(0,0,136,0.25)" stroke="#000088" stroke-width="1.3"/>
<rect x="436.98" y="1320.87" width="4.5" height="4.5" fill="rgba(0,0,136,0.25)" stroke="#000088" stroke-width="1.3"/>
<rect x="436.98" y="1318.15" width="4.5" height="4.5" fill="rgba(0,0,136,0.25)" stroke="#000088" stroke-width="1.3"/>
<rect x="436.98" y="1315.42" width="4.5" height="4.5" fill="rgba(0,0,136,0.25)" stroke="#000088" stroke-width="1.3"/>
<rect x="436.98" y="1312.69" width="4.5" height="4.5" fill="rgba(0,0,136,0.25)" stroke="#000088" stroke-width="1.3"/>
<circle cx="449.78" cy="1288.92" r="2.3" fill="rgba(168,0,0,0.25)" stroke="#a80000" stroke-width="1.3"/>
<circle cx="449.78" cy="1290.4" r="2.3" fill="rgba(168,0,0,0.25)" stroke="#a80000" stroke-width="1.3"/>
<circle cx="449.78" cy="1287.8" r="2.3" fill="rgba(168,0,0,0.25)" stroke="#a80000" stroke-width="1.3"/>
<circle cx="455.53" cy="1288.92" r="2.3" fill="rgba(168,0,0,0.25)" stroke="#a80000" stroke-width="1.3"/>
<circle cx="455.53" cy="1290.03" r="2.3" fill="rgba(168,0,0,0.25)" stroke="#a80000" stroke-width="1.3"/>
<circle cx="455.53" cy="1288.17" r="2.3" fill="rgba(168,0,0,0.25)" stroke="#a80000" stroke-width="1.3"/>
<rect x="459.03" y="1284.44" width="4.5" height="4.5" fill="rgba(0,0,136,0.25)" stroke="#000088" stroke-width="1.3"/>
<rect x="459.03" y="1285.92" width="4.5" height="4.5" fill="rgba(0,0,136,0.25)" stroke="#000088" stroke-width="1.3"/>
<rect x="459.03" y="1287.41" width="4.5" height="4.5" fill="rgba(0,0,136,0.25)" stroke="#000088" stroke-width="1.3"/>
<rect x="464.78" y="1288.15" width="4.5" height="4.5" fill="rgba(0,0,136,0.25)" stroke="#000088" stroke-width="1.3"/>
<rect x="464.78" y="1289.27" width="4.5" height="4.5" fill="rgba(0,0,136,0.25)" stroke="#000088" stroke-width="1.3"/>
<circle cx="477.58" cy="1224.97" r="2.3" fill="rgba(168,0,0,0.25)" stroke="#a80000" stroke-width="1.3"/>
<circle cx="477.58" cy="1221.25" r="2.3" fill="rgba(168,0,0,0.25)" stroke="#a80000" stroke-width="1.3"/>
<circle cx="477.58" cy="1217.53" r="2.3" fill="rgba(168,0,0,0.25)" stroke="#a80000" stroke-width="1.3"/>
<circle cx="477.58" cy="1213.81" r="2.3" fill="rgba(168,0,0,0.25)" stroke="#a80000" stroke-width="1.3"/>
<circle cx="483.33" cy="1225.34" r="2.3" fill="rgba(168,0,0,0.25)" stroke="#a80000" stroke-width="1.3"/>
<circle cx="483.33" cy="1220.88" r="2.3" fill="rgba(168,0,0,0.25)" stroke="#a80000" stroke-width="1.3"/>
<circle cx="483.33" cy="1216.42" r="2.3" fill="rgba(168,0,0,0.25)" stroke="#a80000" stroke-width="1.3"/>
<circle cx="483.33" cy="1211.95" r="2.3" fill="rgba(168,0,0,0.25)" stroke="#a80000" stroke-width="1.3"/>
<rect x="486.83" y="1224.95" width="4.5" height="4.5" fill="rgba(0,0,136,0.25)" stroke="#000088" stroke-width="1.3"/>
<rect x="486.83" y="1219.74" width="4.5" height="4.5" fill="rgba(0,0,136,0.25)" stroke="#000088" stroke-width="1.3"/>
<rect x="486.83" y="1214.54" width="4.5" height="4.5" fill="rgba(0,0,136,0.25)" stroke="#000088" stroke-width="1.3"/>
<rect x="486.83" y="1209.33" width="4.5" height="4.5" fill="rgba(0,0,136,0.25)" stroke="#000088" stroke-width="1.3"/>
<rect x="492.58" y="1227.55" width="4.5" height="4.5" fill="rgba(0,0,136,0.25)" stroke="#000088" stroke-width="1.3"/>
<rect x="492.58" y="1222.47" width="4.5" height="4.5" fill="rgba(0,0,136,0.25)" stroke="#000088" stroke-width="1.3"/>
<rect x="492.58" y="1217.39" width="4.5" height="4.5" fill="rgba(0,0,136,0.25)" stroke="#000088" stroke-width="1.3"/>
<rect x="492.58" y="1212.31" width="4.5" height="4.5" fill="rgba(0,0,136,0.25)" stroke="#000088" stroke-width="1.3"/>
<circle cx="505.38" cy="1314.94" r="2.3" fill="rgba(168,0,0,0.25)" stroke="#a80000" stroke-width="1.3"/>
<circle cx="505.38" cy="1318.66" r="2.3" fill="rgba(168,0,0,0.25)" stroke="#a80000" stroke-width="1.3"/>
<circle cx="505.38" cy="1317.17" r="2.3" fill="rgba(168,0,0,0.25)" stroke="#a80000" stroke-width="1.3"/>
<circle cx="511.12" cy="1314.94" r="2.3" fill="rgba(168,0,0,0.25)" stroke="#a80000" stroke-width="1.3"/>
<circle cx="511.12" cy="1319.03" r="2.3" fill="rgba(168,0,0,0.25)" stroke="#a80000" stroke-width="1.3"/>
<rect x="514.62" y="1311.58" width="4.5" height="4.5" fill="rgba(0,0,136,0.25)" stroke="#000088" stroke-width="1.3"/>
<rect x="514.62" y="1314.18" width="4.5" height="4.5" fill="rgba(0,0,136,0.25)" stroke="#000088" stroke-width="1.3"/>
<rect x="514.62" y="1315.67" width="4.5" height="4.5" fill="rgba(0,0,136,0.25)" stroke="#000088" stroke-width="1.3"/>
<rect x="520.38" y="1311.95" width="4.5" height="4.5" fill="rgba(0,0,136,0.25)" stroke="#000088" stroke-width="1.3"/>
<rect x="520.38" y="1314.92" width="4.5" height="4.5" fill="rgba(0,0,136,0.25)" stroke="#000088" stroke-width="1.3"/>
<circle cx="533.18" cy="1310.85" r="2.3" fill="rgba(168,0,0,0.25)" stroke="#a80000" stroke-width="1.3"/>
<circle cx="533.18" cy="1312.34" r="2.3" fill="rgba(168,0,0,0.25)" stroke="#a80000" stroke-width="1.3"/>
<circle cx="538.93" cy="1311.23" r="2.3" fill="rgba(168,0,0,0.25)" stroke="#a80000" stroke-width="1.3"/>
<circle cx="538.93" cy="1313.46" r="2.3" fill="rgba(168,0,0,0.25)" stroke="#a80000" stroke-width="1.3"/>
<rect x="542.43" y="1307.49" width="4.5" height="4.5" fill="rgba(0,0,136,0.25)" stroke="#000088" stroke-width="1.3"/>
<rect x="542.43" y="1309.72" width="4.5" height="4.5" fill="rgba(0,0,136,0.25)" stroke="#000088" stroke-width="1.3"/>
<rect x="548.18" y="1307.49" width="4.5" height="4.5" fill="rgba(0,0,136,0.25)" stroke="#000088" stroke-width="1.3"/>
<rect x="548.18" y="1310.09" width="4.5" height="4.5" fill="rgba(0,0,136,0.25)" stroke="#000088" stroke-width="1.3"/>
<circle cx="560.98" cy="1322.38" r="2.3" fill="rgba(168,0,0,0.25)" stroke="#a80000" stroke-width="1.3"/>
<circle cx="560.98" cy="1323.87" r="2.3" fill="rgba(168,0,0,0.25)" stroke="#a80000" stroke-width="1.3"/>
<circle cx="566.73" cy="1322.38" r="2.3" fill="rgba(168,0,0,0.25)" stroke="#a80000" stroke-width="1.3"/>
<circle cx="566.73" cy="1323.87" r="2.3" fill="rgba(168,0,0,0.25)" stroke="#a80000" stroke-width="1.3"/>
<rect x="570.23" y="1321.62" width="4.5" height="4.5" fill="rgba(0,0,136,0.25)" stroke="#000088" stroke-width="1.3"/>
<rect x="570.23" y="1323.1" width="4.5" height="4.5" fill="rgba(0,0,136,0.25)" stroke="#000088" stroke-width="1.3"/>
<rect x="575.98" y="1320.13" width="4.5" height="4.5" fill="rgba(0,0,136,0.25)" stroke="#000088" stroke-width="1.3"/>
<rect x="575.98" y="1321.62" width="4.5" height="4.5" fill="rgba(0,0,136,0.25)" stroke="#000088" stroke-width="1.3"/>
<circle cx="588.78" cy="1317.92" r="2.3" fill="rgba(168,0,0,0.25)" stroke="#a80000" stroke-width="1.3"/>
<circle cx="588.78" cy="1320.89" r="2.3" fill="rgba(168,0,0,0.25)" stroke="#a80000" stroke-width="1.3"/>
<circle cx="594.53" cy="1318.66" r="2.3" fill="rgba(168,0,0,0.25)" stroke="#a80000" stroke-width="1.3"/>
<circle cx="594.53" cy="1321.26" r="2.3" fill="rgba(168,0,0,0.25)" stroke="#a80000" stroke-width="1.3"/>
<rect x="598.03" y="1315.3" width="4.5" height="4.5" fill="rgba(0,0,136,0.25)" stroke="#000088" stroke-width="1.3"/>
<rect x="598.03" y="1317.9" width="4.5" height="4.5" fill="rgba(0,0,136,0.25)" stroke="#000088" stroke-width="1.3"/>
<rect x="603.78" y="1314.92" width="4.5" height="4.5" fill="rgba(0,0,136,0.25)" stroke="#000088" stroke-width="1.3"/>
<rect x="603.78" y="1317.53" width="4.5" height="4.5" fill="rgba(0,0,136,0.25)" stroke="#000088" stroke-width="1.3"/>
<circle cx="616.58" cy="1289.29" r="2.3" fill="rgba(168,0,0,0.25)" stroke="#a80000" stroke-width="1.3"/>
<circle cx="616.58" cy="1291.89" r="2.3" fill="rgba(168,0,0,0.25)" stroke="#a80000" stroke-width="1.3"/>
<circle cx="616.58" cy="1293.38" r="2.3" fill="rgba(168,0,0,0.25)" stroke="#a80000" stroke-width="1.3"/>
<circle cx="622.33" cy="1290.4" r="2.3" fill="rgba(168,0,0,0.25)" stroke="#a80000" stroke-width="1.3"/>
<circle cx="622.33" cy="1293.75" r="2.3" fill="rgba(168,0,0,0.25)" stroke="#a80000" stroke-width="1.3"/>
<circle cx="622.33" cy="1295.61" r="2.3" fill="rgba(168,0,0,0.25)" stroke="#a80000" stroke-width="1.3"/>
<rect x="625.83" y="1285.92" width="4.5" height="4.5" fill="rgba(0,0,136,0.25)" stroke="#000088" stroke-width="1.3"/>
<rect x="625.83" y="1289.64" width="4.5" height="4.5" fill="rgba(0,0,136,0.25)" stroke="#000088" stroke-width="1.3"/>
<rect x="625.83" y="1294.1" width="4.5" height="4.5" fill="rgba(0,0,136,0.25)" stroke="#000088" stroke-width="1.3"/>
<rect x="631.58" y="1282.95" width="4.5" height="4.5" fill="rgba(0,0,136,0.25)" stroke="#000088" stroke-width="1.3"/>
<rect x="631.58" y="1286.67" width="4.5" height="4.5" fill="rgba(0,0,136,0.25)" stroke="#000088" stroke-width="1.3"/>
<rect x="631.58" y="1288.9" width="4.5" height="4.5" fill="rgba(0,0,136,0.25)" stroke="#000088" stroke-width="1.3"/>
<circle cx="644.38" cy="1324.61" r="2.3" fill="rgba(168,0,0,0.25)" stroke="#a80000" stroke-width="1.3"/>
<circle cx="644.38" cy="1326.84" r="2.3" fill="rgba(168,0,0,0.25)" stroke="#a80000" stroke-width="1.3"/>
<circle cx="650.12" cy="1324.61" r="2.3" fill="rgba(168,0,0,0.25)" stroke="#a80000" stroke-width="1.3"/>
<circle cx="650.12" cy="1326.47" r="2.3" fill="rgba(168,0,0,0.25)" stroke="#a80000" stroke-width="1.3"/>
<rect x="653.62" y="1323.1" width="4.5" height="4.5" fill="rgba(0,0,136,0.25)" stroke="#000088" stroke-width="1.3"/>
<rect x="653.62" y="1324.96" width="4.5" height="4.5" fill="rgba(0,0,136,0.25)" stroke="#000088" stroke-width="1.3"/>
<rect x="659.38" y="1321.62" width="4.5" height="4.5" fill="rgba(0,0,136,0.25)" stroke="#000088" stroke-width="1.3"/>
<rect x="659.38" y="1323.85" width="4.5" height="4.5" fill="rgba(0,0,136,0.25)" stroke="#000088" stroke-width="1.3"/>
</svg></body></html>
